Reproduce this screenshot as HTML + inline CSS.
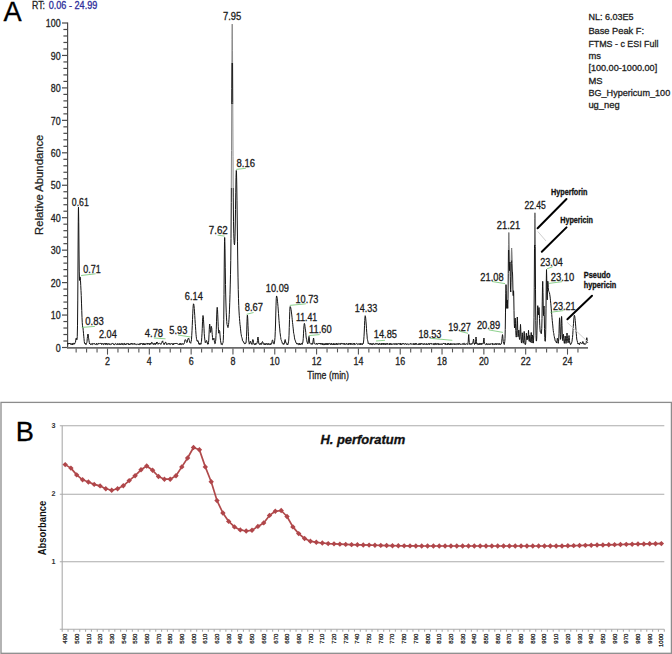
<!DOCTYPE html>
<html><head><meta charset="utf-8"><title>Chromatogram and absorbance spectrum</title>
<style>
html,body{margin:0;padding:0;background:#fff;}
body{width:672px;height:654px;overflow:hidden;}
svg{display:block;font-family:"Liberation Sans", sans-serif;}
</style></head>
<body>
<svg width="672" height="654" viewBox="0 0 672 654">
<rect width="672" height="654" fill="#fff"/>
<text x="3.60" y="21.10" font-size="27.2" fill="#000" stroke="#000" stroke-width="0.3">A</text>
<text x="32.00" y="8.50" font-size="10" textLength="13.00" lengthAdjust="spacingAndGlyphs" fill="#222" stroke="#222" stroke-width="0.3">RT:</text>
<text x="48.70" y="8.50" font-size="10" textLength="48.60" lengthAdjust="spacingAndGlyphs" fill="#2e2e9a" stroke="#2e2e9a" stroke-width="0.3">0.06 - 24.99</text>
<g stroke="#4a4a4a" stroke-width="1.2" fill="none">
<line x1="67.6" y1="22.40" x2="67.6" y2="348.30"/>
<line x1="62.0" y1="347.50" x2="67.6" y2="347.50"/>
<line x1="63.4" y1="341.01" x2="67.6" y2="341.01"/>
<line x1="63.4" y1="334.52" x2="67.6" y2="334.52"/>
<line x1="63.4" y1="328.03" x2="67.6" y2="328.03"/>
<line x1="63.4" y1="321.54" x2="67.6" y2="321.54"/>
<line x1="62.0" y1="315.05" x2="67.6" y2="315.05"/>
<line x1="63.4" y1="308.56" x2="67.6" y2="308.56"/>
<line x1="63.4" y1="302.07" x2="67.6" y2="302.07"/>
<line x1="63.4" y1="295.58" x2="67.6" y2="295.58"/>
<line x1="63.4" y1="289.09" x2="67.6" y2="289.09"/>
<line x1="62.0" y1="282.60" x2="67.6" y2="282.60"/>
<line x1="63.4" y1="276.11" x2="67.6" y2="276.11"/>
<line x1="63.4" y1="269.62" x2="67.6" y2="269.62"/>
<line x1="63.4" y1="263.13" x2="67.6" y2="263.13"/>
<line x1="63.4" y1="256.64" x2="67.6" y2="256.64"/>
<line x1="62.0" y1="250.15" x2="67.6" y2="250.15"/>
<line x1="63.4" y1="243.66" x2="67.6" y2="243.66"/>
<line x1="63.4" y1="237.17" x2="67.6" y2="237.17"/>
<line x1="63.4" y1="230.68" x2="67.6" y2="230.68"/>
<line x1="63.4" y1="224.19" x2="67.6" y2="224.19"/>
<line x1="62.0" y1="217.70" x2="67.6" y2="217.70"/>
<line x1="63.4" y1="211.21" x2="67.6" y2="211.21"/>
<line x1="63.4" y1="204.72" x2="67.6" y2="204.72"/>
<line x1="63.4" y1="198.23" x2="67.6" y2="198.23"/>
<line x1="63.4" y1="191.74" x2="67.6" y2="191.74"/>
<line x1="62.0" y1="185.25" x2="67.6" y2="185.25"/>
<line x1="63.4" y1="178.76" x2="67.6" y2="178.76"/>
<line x1="63.4" y1="172.27" x2="67.6" y2="172.27"/>
<line x1="63.4" y1="165.78" x2="67.6" y2="165.78"/>
<line x1="63.4" y1="159.29" x2="67.6" y2="159.29"/>
<line x1="62.0" y1="152.80" x2="67.6" y2="152.80"/>
<line x1="63.4" y1="146.31" x2="67.6" y2="146.31"/>
<line x1="63.4" y1="139.82" x2="67.6" y2="139.82"/>
<line x1="63.4" y1="133.33" x2="67.6" y2="133.33"/>
<line x1="63.4" y1="126.84" x2="67.6" y2="126.84"/>
<line x1="62.0" y1="120.35" x2="67.6" y2="120.35"/>
<line x1="63.4" y1="113.86" x2="67.6" y2="113.86"/>
<line x1="63.4" y1="107.37" x2="67.6" y2="107.37"/>
<line x1="63.4" y1="100.88" x2="67.6" y2="100.88"/>
<line x1="63.4" y1="94.39" x2="67.6" y2="94.39"/>
<line x1="62.0" y1="87.90" x2="67.6" y2="87.90"/>
<line x1="63.4" y1="81.41" x2="67.6" y2="81.41"/>
<line x1="63.4" y1="74.92" x2="67.6" y2="74.92"/>
<line x1="63.4" y1="68.43" x2="67.6" y2="68.43"/>
<line x1="63.4" y1="61.94" x2="67.6" y2="61.94"/>
<line x1="62.0" y1="55.45" x2="67.6" y2="55.45"/>
<line x1="63.4" y1="48.96" x2="67.6" y2="48.96"/>
<line x1="63.4" y1="42.47" x2="67.6" y2="42.47"/>
<line x1="63.4" y1="35.98" x2="67.6" y2="35.98"/>
<line x1="63.4" y1="29.49" x2="67.6" y2="29.49"/>
<line x1="62.0" y1="23.00" x2="67.6" y2="23.00"/>
</g>
<text x="60.70" y="351.70" font-size="10.6" textLength="4.95" lengthAdjust="spacingAndGlyphs" text-anchor="end" fill="#222" stroke="#222" stroke-width="0.3">0</text>
<text x="60.70" y="319.25" font-size="10.6" textLength="9.90" lengthAdjust="spacingAndGlyphs" text-anchor="end" fill="#222" stroke="#222" stroke-width="0.3">10</text>
<text x="60.70" y="286.80" font-size="10.6" textLength="9.90" lengthAdjust="spacingAndGlyphs" text-anchor="end" fill="#222" stroke="#222" stroke-width="0.3">20</text>
<text x="60.70" y="254.35" font-size="10.6" textLength="9.90" lengthAdjust="spacingAndGlyphs" text-anchor="end" fill="#222" stroke="#222" stroke-width="0.3">30</text>
<text x="60.70" y="221.90" font-size="10.6" textLength="9.90" lengthAdjust="spacingAndGlyphs" text-anchor="end" fill="#222" stroke="#222" stroke-width="0.3">40</text>
<text x="60.70" y="189.45" font-size="10.6" textLength="9.90" lengthAdjust="spacingAndGlyphs" text-anchor="end" fill="#222" stroke="#222" stroke-width="0.3">50</text>
<text x="60.70" y="157.00" font-size="10.6" textLength="9.90" lengthAdjust="spacingAndGlyphs" text-anchor="end" fill="#222" stroke="#222" stroke-width="0.3">60</text>
<text x="60.70" y="124.55" font-size="10.6" textLength="9.90" lengthAdjust="spacingAndGlyphs" text-anchor="end" fill="#222" stroke="#222" stroke-width="0.3">70</text>
<text x="60.70" y="92.10" font-size="10.6" textLength="9.90" lengthAdjust="spacingAndGlyphs" text-anchor="end" fill="#222" stroke="#222" stroke-width="0.3">80</text>
<text x="60.70" y="59.65" font-size="10.6" textLength="9.90" lengthAdjust="spacingAndGlyphs" text-anchor="end" fill="#222" stroke="#222" stroke-width="0.3">90</text>
<text x="60.70" y="27.20" font-size="10.6" textLength="14.85" lengthAdjust="spacingAndGlyphs" text-anchor="end" fill="#222" stroke="#222" stroke-width="0.3">100</text>
<text transform="translate(42.6,184.8) rotate(-90)" font-size="10.4" text-anchor="middle" fill="#222" stroke="#222" stroke-width="0.25" textLength="100.3" lengthAdjust="spacingAndGlyphs">Relative Abundance</text>
<g stroke="#6a6a6a" stroke-width="1.6" fill="none">
<line x1="67" y1="347.9" x2="588" y2="347.9"/>
</g>
<g stroke="#555" stroke-width="1.1" fill="none">
<line x1="76.14" y1="348.5" x2="76.14" y2="352.4"/>
<line x1="86.59" y1="348.5" x2="86.59" y2="352.4"/>
<line x1="97.05" y1="348.5" x2="97.05" y2="352.4"/>
<line x1="107.50" y1="348.5" x2="107.50" y2="354.6"/>
<line x1="117.95" y1="348.5" x2="117.95" y2="352.4"/>
<line x1="128.41" y1="348.5" x2="128.41" y2="352.4"/>
<line x1="138.86" y1="348.5" x2="138.86" y2="352.4"/>
<line x1="149.32" y1="348.5" x2="149.32" y2="354.6"/>
<line x1="159.77" y1="348.5" x2="159.77" y2="352.4"/>
<line x1="170.23" y1="348.5" x2="170.23" y2="352.4"/>
<line x1="180.68" y1="348.5" x2="180.68" y2="352.4"/>
<line x1="191.14" y1="348.5" x2="191.14" y2="354.6"/>
<line x1="201.59" y1="348.5" x2="201.59" y2="352.4"/>
<line x1="212.04" y1="348.5" x2="212.04" y2="352.4"/>
<line x1="222.50" y1="348.5" x2="222.50" y2="352.4"/>
<line x1="232.95" y1="348.5" x2="232.95" y2="354.6"/>
<line x1="243.41" y1="348.5" x2="243.41" y2="352.4"/>
<line x1="253.86" y1="348.5" x2="253.86" y2="352.4"/>
<line x1="264.32" y1="348.5" x2="264.32" y2="352.4"/>
<line x1="274.77" y1="348.5" x2="274.77" y2="354.6"/>
<line x1="285.23" y1="348.5" x2="285.23" y2="352.4"/>
<line x1="295.68" y1="348.5" x2="295.68" y2="352.4"/>
<line x1="306.14" y1="348.5" x2="306.14" y2="352.4"/>
<line x1="316.59" y1="348.5" x2="316.59" y2="354.6"/>
<line x1="327.04" y1="348.5" x2="327.04" y2="352.4"/>
<line x1="337.50" y1="348.5" x2="337.50" y2="352.4"/>
<line x1="347.95" y1="348.5" x2="347.95" y2="352.4"/>
<line x1="358.41" y1="348.5" x2="358.41" y2="354.6"/>
<line x1="368.86" y1="348.5" x2="368.86" y2="352.4"/>
<line x1="379.32" y1="348.5" x2="379.32" y2="352.4"/>
<line x1="389.77" y1="348.5" x2="389.77" y2="352.4"/>
<line x1="400.23" y1="348.5" x2="400.23" y2="354.6"/>
<line x1="410.68" y1="348.5" x2="410.68" y2="352.4"/>
<line x1="421.13" y1="348.5" x2="421.13" y2="352.4"/>
<line x1="431.59" y1="348.5" x2="431.59" y2="352.4"/>
<line x1="442.04" y1="348.5" x2="442.04" y2="354.6"/>
<line x1="452.50" y1="348.5" x2="452.50" y2="352.4"/>
<line x1="462.95" y1="348.5" x2="462.95" y2="352.4"/>
<line x1="473.41" y1="348.5" x2="473.41" y2="352.4"/>
<line x1="483.86" y1="348.5" x2="483.86" y2="354.6"/>
<line x1="494.32" y1="348.5" x2="494.32" y2="352.4"/>
<line x1="504.77" y1="348.5" x2="504.77" y2="352.4"/>
<line x1="515.23" y1="348.5" x2="515.23" y2="352.4"/>
<line x1="525.68" y1="348.5" x2="525.68" y2="354.6"/>
<line x1="536.13" y1="348.5" x2="536.13" y2="352.4"/>
<line x1="546.59" y1="348.5" x2="546.59" y2="352.4"/>
<line x1="557.04" y1="348.5" x2="557.04" y2="352.4"/>
<line x1="567.50" y1="348.5" x2="567.50" y2="354.6"/>
<line x1="577.95" y1="348.5" x2="577.95" y2="352.4"/>
</g>
<text x="107.50" y="364.90" font-size="10.5" textLength="4.95" lengthAdjust="spacingAndGlyphs" text-anchor="middle" fill="#222" stroke="#222" stroke-width="0.3">2</text>
<text x="149.32" y="364.90" font-size="10.5" textLength="4.95" lengthAdjust="spacingAndGlyphs" text-anchor="middle" fill="#222" stroke="#222" stroke-width="0.3">4</text>
<text x="191.14" y="364.90" font-size="10.5" textLength="4.95" lengthAdjust="spacingAndGlyphs" text-anchor="middle" fill="#222" stroke="#222" stroke-width="0.3">6</text>
<text x="232.95" y="364.90" font-size="10.5" textLength="4.95" lengthAdjust="spacingAndGlyphs" text-anchor="middle" fill="#222" stroke="#222" stroke-width="0.3">8</text>
<text x="274.77" y="364.90" font-size="10.5" textLength="9.90" lengthAdjust="spacingAndGlyphs" text-anchor="middle" fill="#222" stroke="#222" stroke-width="0.3">10</text>
<text x="316.59" y="364.90" font-size="10.5" textLength="9.90" lengthAdjust="spacingAndGlyphs" text-anchor="middle" fill="#222" stroke="#222" stroke-width="0.3">12</text>
<text x="358.41" y="364.90" font-size="10.5" textLength="9.90" lengthAdjust="spacingAndGlyphs" text-anchor="middle" fill="#222" stroke="#222" stroke-width="0.3">14</text>
<text x="400.23" y="364.90" font-size="10.5" textLength="9.90" lengthAdjust="spacingAndGlyphs" text-anchor="middle" fill="#222" stroke="#222" stroke-width="0.3">16</text>
<text x="442.04" y="364.90" font-size="10.5" textLength="9.90" lengthAdjust="spacingAndGlyphs" text-anchor="middle" fill="#222" stroke="#222" stroke-width="0.3">18</text>
<text x="483.86" y="364.90" font-size="10.5" textLength="9.90" lengthAdjust="spacingAndGlyphs" text-anchor="middle" fill="#222" stroke="#222" stroke-width="0.3">20</text>
<text x="525.68" y="364.90" font-size="10.5" textLength="9.90" lengthAdjust="spacingAndGlyphs" text-anchor="middle" fill="#222" stroke="#222" stroke-width="0.3">22</text>
<text x="567.50" y="364.90" font-size="10.5" textLength="9.90" lengthAdjust="spacingAndGlyphs" text-anchor="middle" fill="#222" stroke="#222" stroke-width="0.3">24</text>
<text x="307.30" y="379.20" font-size="10.4" textLength="41.60" lengthAdjust="spacingAndGlyphs" fill="#222" stroke="#222" stroke-width="0.3">Time (min)</text>
<text x="588.40" y="19.80" font-size="9.4" textLength="45.00" lengthAdjust="spacingAndGlyphs" fill="#222" stroke="#222" stroke-width="0.3">NL: 6.03E5</text>
<text x="588.40" y="34.20" font-size="9.4" textLength="55.60" lengthAdjust="spacingAndGlyphs" fill="#222" stroke="#222" stroke-width="0.3">Base Peak F:</text>
<text x="588.40" y="46.60" font-size="9.4" textLength="70.00" lengthAdjust="spacingAndGlyphs" fill="#222" stroke="#222" stroke-width="0.3">FTMS - c ESI Full</text>
<text x="588.40" y="58.60" font-size="9.4" fill="#222" stroke="#222" stroke-width="0.3">ms</text>
<text x="588.40" y="71.40" font-size="9.4" textLength="68.80" lengthAdjust="spacingAndGlyphs" fill="#222" stroke="#222" stroke-width="0.3">[100.00-1000.00]</text>
<text x="588.40" y="83.60" font-size="9.4" fill="#222" stroke="#222" stroke-width="0.3">MS</text>
<text x="588.40" y="96.20" font-size="9.4" textLength="81.80" lengthAdjust="spacingAndGlyphs" fill="#222" stroke="#222" stroke-width="0.3">BG_Hypericum_100</text>
<text x="588.40" y="107.60" font-size="9.4" fill="#222" stroke="#222" stroke-width="0.3">ug_neg</text>
<path d="M67.50,343.74 L67.75,343.48 L68.00,344.23 L68.25,343.36 L68.50,344.05 L68.75,343.80 L69.00,343.34 L69.25,344.01 L69.50,343.31 L69.75,343.90 L70.00,343.35 L70.25,343.39 L70.50,343.89 L70.75,344.49 L71.00,343.44 L71.25,343.58 L71.50,344.19 L71.75,344.67 L72.00,344.12 L72.25,343.85 L72.50,344.71 L72.75,343.32 L73.00,344.54 L73.25,343.68 L73.50,343.46 L73.75,343.41 L74.00,343.64 L74.25,344.23 L74.50,342.96 L74.75,343.24 L74.90,343.00 L75.00,343.17 L75.25,342.62 L75.50,342.23 L75.75,340.09 L76.00,338.55 L76.20,338.60 L76.25,338.14 L76.50,339.44 L76.75,339.96 L77.00,339.57 L77.25,336.70 L77.50,325.85 L77.75,300.95 L78.00,261.00 L78.25,221.66 L78.40,209.00 L78.50,207.14 L78.75,222.80 L79.00,250.00 L79.25,271.08 L79.50,280.46 L79.75,280.17 L80.00,277.05 L80.20,277.00 L80.25,277.65 L80.50,280.81 L80.75,285.66 L81.00,290.50 L81.25,295.59 L81.40,300.00 L81.50,303.14 L81.75,310.47 L82.00,317.47 L82.25,322.69 L82.50,325.78 L82.75,327.62 L83.00,327.95 L83.10,329.00 L83.25,330.72 L83.50,333.27 L83.75,336.16 L84.00,338.68 L84.25,341.41 L84.50,343.03 L84.75,343.18 L85.00,343.91 L85.25,343.21 L85.50,344.25 L85.75,344.20 L86.00,344.71 L86.25,344.37 L86.50,343.30 L86.75,342.76 L87.00,341.76 L87.25,338.56 L87.50,336.65 L87.75,334.35 L87.90,334.50 L88.00,334.02 L88.25,334.95 L88.50,337.82 L88.75,338.90 L89.00,340.86 L89.25,342.36 L89.50,343.86 L89.75,343.08 L90.00,343.82 L90.25,344.04 L90.50,344.57 L90.75,344.48 L91.00,344.55 L91.25,343.67 L91.50,343.87 L91.75,343.79 L92.00,344.58 L92.25,344.69 L92.50,343.48 L92.75,343.51 L93.00,343.60 L93.25,343.60 L93.50,343.98 L93.75,344.13 L94.00,343.64 L94.25,343.26 L94.50,343.88 L94.75,343.80 L95.00,344.10 L95.25,344.68 L95.50,344.29 L95.75,344.02 L96.00,344.18 L96.25,344.26 L96.50,343.33 L96.75,344.60 L97.00,344.42 L97.25,344.56 L97.50,344.45 L97.75,343.84 L98.00,343.85 L98.25,343.41 L98.50,344.20 L98.75,343.34 L99.00,343.35 L99.25,343.56 L99.50,343.49 L99.75,343.76 L100.00,343.33 L100.25,343.25 L100.50,343.48 L100.75,343.40 L101.00,343.80 L101.25,343.29 L101.50,344.56 L101.75,344.17 L102.00,343.47 L102.25,343.63 L102.50,343.77 L102.75,343.80 L103.00,343.43 L103.25,344.52 L103.50,344.74 L103.75,343.95 L104.00,343.98 L104.25,343.38 L104.50,343.40 L104.75,343.76 L105.00,343.65 L105.25,344.49 L105.50,343.49 L105.75,343.28 L106.00,344.68 L106.25,344.04 L106.50,343.47 L106.75,344.06 L107.00,343.29 L107.25,344.04 L107.50,344.72 L107.75,344.54 L108.00,344.29 L108.25,343.64 L108.50,343.80 L108.75,343.50 L109.00,344.41 L109.25,344.05 L109.50,344.42 L109.75,343.74 L110.00,343.58 L110.25,344.47 L110.50,344.73 L110.75,344.53 L111.00,344.46 L111.25,344.48 L111.50,344.36 L111.75,343.59 L112.00,344.03 L112.25,343.78 L112.50,343.29 L112.75,343.29 L113.00,343.67 L113.25,343.64 L113.50,344.29 L113.75,344.68 L114.00,343.92 L114.25,344.66 L114.50,344.73 L114.75,344.68 L115.00,343.80 L115.25,343.58 L115.50,343.59 L115.75,343.55 L116.00,343.56 L116.25,344.19 L116.50,344.60 L116.75,344.51 L117.00,343.97 L117.25,344.23 L117.50,344.45 L117.75,343.38 L118.00,344.24 L118.25,344.61 L118.50,344.42 L118.75,344.38 L119.00,343.97 L119.25,343.52 L119.50,344.43 L119.75,343.75 L120.00,344.45 L120.25,344.71 L120.50,343.84 L120.75,343.85 L121.00,344.67 L121.25,344.34 L121.50,343.51 L121.75,343.44 L122.00,343.48 L122.25,344.61 L122.50,344.46 L122.75,343.47 L123.00,344.49 L123.25,344.72 L123.50,344.24 L123.75,343.78 L124.00,344.07 L124.25,343.45 L124.50,343.27 L124.75,344.71 L125.00,344.22 L125.25,344.04 L125.50,344.65 L125.75,343.90 L126.00,344.56 L126.25,344.49 L126.50,343.57 L126.75,343.63 L127.00,343.69 L127.25,343.61 L127.50,344.13 L127.75,343.64 L128.00,343.88 L128.25,343.45 L128.50,344.62 L128.75,343.78 L129.00,343.94 L129.25,344.13 L129.50,344.61 L129.75,343.88 L130.00,344.63 L130.25,344.00 L130.50,344.05 L130.75,344.04 L131.00,343.28 L131.25,343.91 L131.50,343.52 L131.75,343.26 L132.00,344.45 L132.25,343.51 L132.50,343.96 L132.75,344.34 L133.00,344.08 L133.25,343.74 L133.50,344.03 L133.75,344.08 L134.00,344.43 L134.25,343.41 L134.50,344.09 L134.75,343.62 L135.00,343.67 L135.25,344.41 L135.50,344.01 L135.75,344.09 L136.00,344.39 L136.25,344.62 L136.50,343.91 L136.75,344.17 L137.00,344.01 L137.25,344.02 L137.50,344.29 L137.75,343.93 L138.00,344.05 L138.25,343.97 L138.50,344.66 L138.75,344.30 L139.00,344.56 L139.25,344.66 L139.50,343.64 L139.75,344.09 L140.00,344.66 L140.25,344.51 L140.50,343.46 L140.75,343.43 L141.00,343.91 L141.25,343.36 L141.50,343.61 L141.75,343.36 L142.00,344.25 L142.25,344.43 L142.50,344.60 L142.75,343.48 L143.00,344.32 L143.25,344.24 L143.50,343.46 L143.75,344.57 L144.00,344.70 L144.25,343.58 L144.50,344.68 L144.75,343.85 L145.00,343.98 L145.25,344.73 L145.50,344.50 L145.75,343.49 L146.00,343.90 L146.25,344.02 L146.50,343.76 L146.75,343.54 L147.00,343.73 L147.25,344.33 L147.50,343.28 L147.75,344.08 L148.00,343.91 L148.25,343.28 L148.50,343.75 L148.75,344.19 L149.00,344.02 L149.25,343.35 L149.50,344.73 L149.75,344.43 L150.00,344.71 L150.25,343.40 L150.50,343.63 L150.75,343.23 L151.00,344.19 L151.25,343.10 L151.50,342.41 L151.75,342.38 L152.00,342.30 L152.25,343.12 L152.50,343.45 L152.75,343.09 L153.00,343.24 L153.25,344.55 L153.50,344.09 L153.75,344.30 L154.00,343.38 L154.25,343.34 L154.50,344.28 L154.75,343.89 L155.00,343.36 L155.25,344.65 L155.50,344.18 L155.75,344.36 L156.00,343.10 L156.25,343.89 L156.50,342.14 L156.75,342.78 L157.00,342.00 L157.25,342.17 L157.50,342.55 L157.75,343.43 L158.00,344.37 L158.25,343.56 L158.50,343.42 L158.75,344.04 L159.00,343.61 L159.25,343.41 L159.50,343.49 L159.75,343.33 L160.00,343.55 L160.25,343.72 L160.50,343.71 L160.75,344.38 L161.00,343.65 L161.25,343.88 L161.50,343.15 L161.75,342.89 L162.00,341.64 L162.25,341.24 L162.50,341.30 L162.75,340.89 L163.00,342.71 L163.25,343.20 L163.50,343.17 L163.75,343.84 L164.00,344.60 L164.25,343.32 L164.50,344.21 L164.75,343.25 L165.00,342.78 L165.25,342.74 L165.50,342.00 L165.75,342.07 L166.00,342.80 L166.25,343.63 L166.50,344.45 L166.75,343.68 L167.00,344.48 L167.25,344.31 L167.50,344.20 L167.75,343.86 L168.00,343.77 L168.25,343.33 L168.50,343.44 L168.75,343.36 L169.00,344.36 L169.25,343.63 L169.50,343.49 L169.75,343.38 L170.00,344.51 L170.25,344.56 L170.50,344.26 L170.75,343.67 L171.00,343.61 L171.25,343.69 L171.50,343.94 L171.75,343.49 L172.00,343.92 L172.25,343.64 L172.50,344.69 L172.75,344.71 L173.00,344.07 L173.25,343.62 L173.50,344.70 L173.75,343.71 L174.00,343.78 L174.25,343.25 L174.50,343.82 L174.75,343.96 L175.00,344.00 L175.25,343.55 L175.50,344.01 L175.75,343.26 L176.00,343.65 L176.25,343.38 L176.50,343.85 L176.75,343.31 L177.00,343.28 L177.25,343.71 L177.50,343.60 L177.75,344.13 L178.00,344.04 L178.25,344.38 L178.50,344.24 L178.75,344.32 L179.00,344.57 L179.25,343.83 L179.50,343.74 L179.75,344.73 L180.00,343.47 L180.25,344.34 L180.50,344.21 L180.75,343.32 L181.00,344.50 L181.25,344.59 L181.50,344.19 L181.75,344.35 L182.00,344.47 L182.25,343.46 L182.50,344.03 L182.75,344.00 L183.00,344.47 L183.25,344.38 L183.50,344.31 L183.75,343.76 L184.00,343.90 L184.25,343.10 L184.50,342.46 L184.75,341.02 L185.00,340.01 L185.25,339.64 L185.50,340.00 L185.75,339.97 L186.00,340.08 L186.25,341.81 L186.50,342.00 L186.75,342.47 L187.00,342.47 L187.25,342.14 L187.50,341.06 L187.75,339.31 L188.00,339.48 L188.25,338.65 L188.50,338.00 L188.75,338.29 L189.00,339.12 L189.25,340.37 L189.50,340.59 L189.75,342.55 L190.00,342.51 L190.25,342.61 L190.50,342.94 L190.75,343.31 L191.00,341.75 L191.25,341.15 L191.50,339.27 L191.75,335.30 L192.00,330.77 L192.25,325.56 L192.50,319.70 L192.75,313.78 L193.00,308.58 L193.25,305.10 L193.50,303.80 L193.75,304.16 L194.00,305.81 L194.25,308.41 L194.50,311.92 L194.75,315.50 L195.00,319.65 L195.25,323.43 L195.50,326.81 L195.75,330.60 L196.00,334.23 L196.25,336.79 L196.50,338.79 L196.75,339.73 L197.00,341.04 L197.25,341.35 L197.50,341.25 L197.75,340.45 L198.00,341.00 L198.25,342.07 L198.50,341.84 L198.75,343.80 L199.00,344.26 L199.25,343.14 L199.50,343.90 L199.75,344.47 L200.00,344.70 L200.25,343.91 L200.50,343.60 L200.75,343.40 L201.00,344.19 L201.25,342.31 L201.50,341.25 L201.75,337.68 L202.00,333.76 L202.25,328.63 L202.50,321.75 L202.75,317.40 L203.00,315.50 L203.25,316.58 L203.50,319.75 L203.75,323.95 L204.00,328.22 L204.25,333.73 L204.50,336.87 L204.75,338.98 L205.00,340.80 L205.25,342.58 L205.50,342.85 L205.75,342.30 L206.00,341.24 L206.25,340.65 L206.50,340.50 L206.75,340.64 L207.00,342.39 L207.25,342.12 L207.50,343.90 L207.75,344.32 L208.00,343.22 L208.25,344.02 L208.50,342.48 L208.75,340.14 L209.00,334.85 L209.25,329.59 L209.50,325.21 L209.70,324.00 L209.75,324.78 L210.00,326.35 L210.25,329.80 L210.50,332.45 L210.75,331.83 L211.00,328.80 L211.25,326.33 L211.40,326.50 L211.50,327.23 L211.75,328.11 L212.00,332.06 L212.25,334.46 L212.50,337.54 L212.75,339.94 L213.00,340.11 L213.25,339.76 L213.50,339.42 L213.75,338.58 L213.80,338.00 L214.00,338.98 L214.25,340.25 L214.50,342.38 L214.75,343.61 L215.00,343.48 L215.25,343.48 L215.50,341.38 L215.75,340.05 L216.00,335.48 L216.25,329.77 L216.50,321.81 L216.75,314.06 L217.00,308.57 L217.20,307.30 L217.25,307.56 L217.50,309.58 L217.75,314.84 L218.00,321.11 L218.25,326.72 L218.50,331.34 L218.75,333.19 L219.00,331.60 L219.25,331.02 L219.50,330.50 L219.75,331.63 L220.00,334.88 L220.25,337.90 L220.50,340.27 L220.75,342.02 L221.00,342.99 L221.25,344.42 L221.50,343.94 L221.75,343.56 L222.00,344.59 L222.25,344.70 L222.50,343.84 L222.75,343.22 L223.00,342.71 L223.25,340.42 L223.50,334.41 L223.75,319.74 L224.00,294.55 L224.25,264.01 L224.50,241.47 L224.60,237.50 L224.75,237.51 L225.00,248.90 L225.25,267.20 L225.50,284.35 L225.60,290.00 L225.75,297.06 L226.00,306.01 L226.25,312.84 L226.50,317.91 L226.75,321.65 L227.00,324.78 L227.25,324.98 L227.50,326.50 L227.75,327.23 L228.00,327.63 L228.25,326.05 L228.50,324.70 L228.75,322.54 L229.00,319.15 L229.25,314.59 L229.50,309.10 L229.75,302.22 L230.00,294.33 L230.25,284.93 L230.50,274.29 L230.75,260.42 L231.00,238.54 L231.25,202.63 L231.50,150.30 L231.75,88.79 L232.00,39.52 L232.20,24.00 L232.25,24.55 L232.50,50.30 L232.75,102.32 L233.00,156.76 L233.25,197.11 L233.50,221.22 L233.75,233.81 L234.00,240.44 L234.25,243.85 L234.50,244.84 L234.75,242.53 L235.00,236.15 L235.25,225.01 L235.50,209.39 L235.75,192.21 L236.00,177.45 L236.25,170.48 L236.40,170.80 L236.50,172.93 L236.75,184.06 L237.00,200.80 L237.25,220.97 L237.50,241.79 L237.75,260.96 L238.00,277.12 L238.25,289.62 L238.50,298.70 L238.75,305.60 L239.00,311.05 L239.25,315.23 L239.50,318.62 L239.75,321.58 L240.00,324.57 L240.25,326.14 L240.50,328.80 L240.75,331.05 L241.00,333.60 L241.25,334.74 L241.50,336.52 L241.75,337.16 L242.00,337.89 L242.25,338.86 L242.50,340.74 L242.75,341.05 L243.00,341.05 L243.25,341.11 L243.50,342.24 L243.75,342.85 L244.00,342.76 L244.25,342.75 L244.50,343.55 L244.75,344.09 L245.00,343.16 L245.25,342.96 L245.50,343.43 L245.75,343.37 L246.00,342.99 L246.25,340.18 L246.50,336.77 L246.75,329.89 L247.00,321.72 L247.25,315.92 L247.40,315.00 L247.50,315.56 L247.75,318.84 L248.00,325.55 L248.25,331.27 L248.50,336.66 L248.75,341.03 L249.00,342.29 L249.25,344.15 L249.50,343.70 L249.75,342.97 L250.00,342.20 L250.25,341.41 L250.50,341.00 L250.75,341.78 L251.00,343.30 L251.25,342.95 L251.50,343.70 L251.75,343.51 L252.00,344.51 L252.25,342.69 L252.50,341.27 L252.75,339.64 L253.00,339.50 L253.25,340.14 L253.50,342.54 L253.75,343.80 L254.00,344.15 L254.25,344.71 L254.50,344.64 L254.75,343.74 L255.00,343.53 L255.25,344.65 L255.50,344.37 L255.75,343.30 L256.00,344.25 L256.25,343.82 L256.50,343.80 L256.75,343.69 L257.00,343.20 L257.25,342.05 L257.50,340.46 L257.75,338.02 L258.00,337.00 L258.25,338.93 L258.50,340.23 L258.75,343.49 L259.00,343.25 L259.25,343.73 L259.50,344.48 L259.75,344.48 L260.00,343.90 L260.25,343.32 L260.50,343.96 L260.75,343.81 L261.00,344.63 L261.25,343.52 L261.50,343.69 L261.75,344.16 L262.00,342.15 L262.25,341.81 L262.50,341.50 L262.75,342.41 L263.00,343.26 L263.25,342.88 L263.50,343.19 L263.75,343.32 L264.00,344.63 L264.25,343.64 L264.50,344.37 L264.75,344.60 L265.00,343.76 L265.25,343.66 L265.50,344.69 L265.75,344.18 L266.00,343.64 L266.25,344.32 L266.50,343.72 L266.75,343.66 L267.00,343.26 L267.25,344.38 L267.50,344.62 L267.75,344.20 L268.00,344.66 L268.25,343.29 L268.50,343.60 L268.75,343.96 L269.00,344.69 L269.25,344.68 L269.50,343.83 L269.75,343.63 L270.00,343.89 L270.25,343.99 L270.50,344.64 L270.75,343.52 L271.00,344.41 L271.25,344.18 L271.50,343.94 L271.75,343.11 L272.00,341.73 L272.25,340.21 L272.50,340.00 L272.75,340.20 L273.00,341.37 L273.25,343.12 L273.50,342.81 L273.75,343.31 L274.00,344.15 L274.25,343.08 L274.50,341.97 L274.75,340.15 L275.00,337.58 L275.25,331.77 L275.50,324.99 L275.75,315.06 L276.00,305.78 L276.25,298.49 L276.50,296.00 L276.75,296.15 L277.00,297.16 L277.25,298.96 L277.50,301.24 L277.75,303.77 L278.00,306.69 L278.25,310.04 L278.50,313.56 L278.75,317.04 L279.00,320.48 L279.25,323.79 L279.50,326.95 L279.75,328.94 L280.00,332.54 L280.25,333.95 L280.50,336.28 L280.75,337.62 L281.00,339.52 L281.25,339.83 L281.50,340.80 L281.75,341.51 L282.00,341.92 L282.25,343.45 L282.50,343.31 L282.75,343.17 L283.00,343.45 L283.25,344.46 L283.50,343.82 L283.75,343.45 L284.00,344.25 L284.25,343.69 L284.50,343.36 L284.75,340.66 L285.00,339.88 L285.20,339.50 L285.25,340.01 L285.50,340.91 L285.75,342.49 L286.00,342.38 L286.25,343.39 L286.50,343.36 L286.75,343.52 L287.00,344.71 L287.25,344.12 L287.50,344.63 L287.75,343.75 L288.00,344.35 L288.25,343.27 L288.50,341.83 L288.75,340.09 L289.00,335.74 L289.25,327.50 L289.50,319.62 L289.75,311.70 L290.00,306.91 L290.10,306.60 L290.25,306.62 L290.50,307.00 L290.75,307.93 L291.00,309.25 L291.25,311.04 L291.50,312.99 L291.75,314.95 L292.00,317.19 L292.25,319.76 L292.50,322.38 L292.75,324.27 L293.00,326.83 L293.25,328.91 L293.50,331.90 L293.75,333.46 L294.00,334.46 L294.25,336.06 L294.50,337.84 L294.75,339.23 L295.00,340.34 L295.25,340.34 L295.50,341.12 L295.75,342.46 L296.00,342.47 L296.25,342.63 L296.50,342.93 L296.75,344.11 L297.00,343.30 L297.25,343.80 L297.50,343.57 L297.75,343.73 L298.00,344.44 L298.25,344.67 L298.50,343.75 L298.75,343.51 L299.00,344.32 L299.25,343.54 L299.50,343.25 L299.75,344.60 L300.00,343.88 L300.25,344.48 L300.50,343.86 L300.75,344.57 L301.00,343.94 L301.25,343.49 L301.50,343.27 L301.75,344.07 L302.00,344.17 L302.25,344.47 L302.50,342.94 L302.75,342.98 L303.00,341.02 L303.25,338.42 L303.50,333.81 L303.75,329.27 L304.00,325.51 L304.25,323.65 L304.30,323.40 L304.50,323.47 L304.75,324.58 L305.00,326.64 L305.25,328.93 L305.50,330.09 L305.75,332.38 L306.00,335.90 L306.25,338.03 L306.50,339.05 L306.75,339.84 L307.00,342.26 L307.25,342.26 L307.50,343.60 L307.75,343.51 L308.00,343.80 L308.25,341.98 L308.50,340.85 L308.75,337.30 L309.00,336.40 L309.25,337.62 L309.50,341.05 L309.75,343.19 L310.00,343.19 L310.25,343.52 L310.50,343.84 L310.75,344.03 L311.00,343.83 L311.25,343.43 L311.50,343.62 L311.75,344.34 L312.00,344.60 L312.25,343.30 L312.50,343.99 L312.75,343.78 L313.00,341.14 L313.25,339.86 L313.50,338.00 L313.75,338.78 L314.00,341.99 L314.25,343.47 L314.50,344.09 L314.75,343.70 L315.00,343.88 L315.25,344.12 L315.50,343.89 L315.75,344.24 L316.00,343.92 L316.25,343.91 L316.50,343.29 L316.75,344.18 L317.00,343.98 L317.25,343.60 L317.50,344.40 L317.75,344.42 L318.00,343.94 L318.25,343.52 L318.50,343.96 L318.75,343.41 L319.00,343.44 L319.25,343.90 L319.50,343.39 L319.75,343.91 L320.00,344.02 L320.25,343.31 L320.50,344.20 L320.75,343.37 L321.00,344.35 L321.25,344.42 L321.50,344.02 L321.75,343.33 L322.00,344.01 L322.25,343.82 L322.50,344.68 L322.75,343.45 L323.00,344.54 L323.25,344.74 L323.50,344.35 L323.75,344.47 L324.00,343.54 L324.25,344.72 L324.50,343.99 L324.75,344.68 L325.00,344.62 L325.25,343.50 L325.50,344.43 L325.75,344.65 L326.00,343.35 L326.25,343.78 L326.50,344.38 L326.75,343.49 L327.00,344.59 L327.25,343.66 L327.50,344.47 L327.75,343.47 L328.00,344.00 L328.25,344.63 L328.50,343.56 L328.75,343.64 L329.00,344.01 L329.25,343.73 L329.50,343.31 L329.75,343.52 L330.00,343.49 L330.25,344.65 L330.50,344.27 L330.75,344.59 L331.00,343.50 L331.25,344.43 L331.50,343.42 L331.75,344.05 L332.00,344.20 L332.25,343.79 L332.50,344.56 L332.75,344.08 L333.00,344.12 L333.25,344.57 L333.50,343.41 L333.75,344.74 L334.00,344.19 L334.25,343.84 L334.50,344.45 L334.75,343.65 L335.00,344.74 L335.25,344.12 L335.50,343.79 L335.75,344.40 L336.00,343.91 L336.25,343.52 L336.50,344.37 L336.75,343.32 L337.00,344.48 L337.25,343.63 L337.50,344.21 L337.75,344.73 L338.00,344.13 L338.25,344.25 L338.50,343.72 L338.75,343.25 L339.00,343.30 L339.25,343.47 L339.50,344.17 L339.75,343.90 L340.00,344.02 L340.25,344.59 L340.50,343.45 L340.75,343.59 L341.00,344.23 L341.25,343.28 L341.50,343.25 L341.75,343.78 L342.00,343.41 L342.25,343.79 L342.50,343.59 L342.75,344.13 L343.00,344.13 L343.25,343.56 L343.50,344.19 L343.75,343.96 L344.00,343.45 L344.25,344.65 L344.50,343.62 L344.75,343.47 L345.00,343.39 L345.25,344.21 L345.50,344.56 L345.75,344.42 L346.00,343.85 L346.25,343.65 L346.50,343.27 L346.75,344.22 L347.00,344.09 L347.25,343.78 L347.50,344.22 L347.75,343.92 L348.00,344.66 L348.25,344.35 L348.50,343.62 L348.75,344.61 L349.00,343.32 L349.25,344.05 L349.50,343.86 L349.75,343.61 L350.00,343.34 L350.25,344.42 L350.50,343.27 L350.75,344.08 L351.00,344.66 L351.25,343.46 L351.50,343.55 L351.75,344.16 L352.00,344.01 L352.25,344.21 L352.50,344.47 L352.75,343.51 L353.00,343.71 L353.25,343.70 L353.50,343.32 L353.75,344.58 L354.00,344.42 L354.25,344.32 L354.50,343.26 L354.75,344.52 L355.00,344.37 L355.25,343.95 L355.50,344.36 L355.75,343.93 L356.00,343.59 L356.25,343.41 L356.50,343.60 L356.75,343.31 L357.00,343.75 L357.25,344.37 L357.50,344.29 L357.75,344.52 L358.00,344.32 L358.25,343.65 L358.50,344.08 L358.75,343.90 L359.00,344.43 L359.25,344.03 L359.50,343.65 L359.75,344.21 L360.00,344.70 L360.25,343.58 L360.50,344.57 L360.75,343.27 L361.00,343.64 L361.25,343.60 L361.50,344.37 L361.75,344.67 L362.00,344.37 L362.25,343.73 L362.50,344.53 L362.75,343.61 L363.00,343.23 L363.25,343.65 L363.50,342.03 L363.75,339.92 L364.00,336.38 L364.25,332.03 L364.50,325.65 L364.75,320.51 L365.00,316.78 L365.20,315.70 L365.25,315.89 L365.50,316.62 L365.75,318.86 L366.00,321.81 L366.25,325.06 L366.50,328.63 L366.75,332.77 L367.00,335.05 L367.25,338.84 L367.50,339.64 L367.75,340.87 L368.00,341.95 L368.25,343.80 L368.50,343.31 L368.75,343.22 L369.00,343.17 L369.25,343.26 L369.50,344.26 L369.75,344.19 L370.00,344.29 L370.25,344.35 L370.50,343.35 L370.75,344.14 L371.00,343.80 L371.25,344.48 L371.50,344.48 L371.75,344.59 L372.00,343.35 L372.25,344.55 L372.50,344.62 L372.75,344.67 L373.00,343.41 L373.25,343.56 L373.50,343.42 L373.75,343.30 L374.00,344.52 L374.25,344.47 L374.50,344.20 L374.75,344.49 L375.00,344.20 L375.25,343.68 L375.50,343.40 L375.75,343.40 L376.00,344.39 L376.25,343.56 L376.50,343.73 L376.75,343.89 L377.00,343.28 L377.25,343.64 L377.50,343.67 L377.75,344.32 L378.00,343.80 L378.25,343.73 L378.50,344.70 L378.75,344.01 L379.00,344.53 L379.25,344.18 L379.50,343.30 L379.75,343.87 L380.00,343.90 L380.25,344.41 L380.50,343.77 L380.75,344.31 L381.00,344.06 L381.25,343.57 L381.50,344.54 L381.75,343.39 L382.00,344.48 L382.25,343.51 L382.50,343.25 L382.75,343.55 L383.00,344.39 L383.25,344.72 L383.50,343.26 L383.75,343.99 L384.00,343.99 L384.25,344.45 L384.50,343.53 L384.75,343.99 L385.00,343.77 L385.25,344.50 L385.50,343.64 L385.75,344.67 L386.00,343.68 L386.25,343.57 L386.50,344.30 L386.75,344.00 L387.00,343.41 L387.25,344.20 L387.50,343.37 L387.75,344.43 L388.00,344.30 L388.25,344.43 L388.50,344.19 L388.75,343.78 L389.00,343.85 L389.25,343.84 L389.50,344.59 L389.75,343.38 L390.00,344.58 L390.25,343.29 L390.50,343.56 L390.75,343.64 L391.00,344.60 L391.25,344.00 L391.50,343.82 L391.75,344.58 L392.00,343.60 L392.25,343.94 L392.50,344.05 L392.75,344.38 L393.00,344.38 L393.25,344.22 L393.50,343.77 L393.75,343.74 L394.00,343.48 L394.25,344.51 L394.50,344.24 L394.75,344.36 L395.00,343.50 L395.25,343.91 L395.50,344.41 L395.75,344.12 L396.00,343.44 L396.25,343.94 L396.50,344.58 L396.75,343.61 L397.00,343.54 L397.25,343.70 L397.50,344.30 L397.75,344.52 L398.00,343.48 L398.25,343.48 L398.50,343.62 L398.75,343.74 L399.00,344.03 L399.25,343.49 L399.50,343.74 L399.75,343.53 L400.00,344.71 L400.25,344.34 L400.50,343.40 L400.75,344.69 L401.00,343.40 L401.25,343.83 L401.50,344.73 L401.75,344.44 L402.00,344.35 L402.25,343.90 L402.50,343.54 L402.75,344.21 L403.00,343.41 L403.25,343.56 L403.50,343.83 L403.75,343.30 L404.00,343.85 L404.25,344.44 L404.50,344.29 L404.75,344.00 L405.00,344.20 L405.25,343.94 L405.50,343.46 L405.75,344.16 L406.00,343.86 L406.25,344.36 L406.50,344.61 L406.75,343.90 L407.00,344.11 L407.25,344.37 L407.50,343.88 L407.75,343.59 L408.00,344.33 L408.25,344.57 L408.50,344.41 L408.75,344.30 L409.00,344.53 L409.25,344.27 L409.50,344.21 L409.75,343.93 L410.00,343.72 L410.25,344.19 L410.50,343.40 L410.75,343.88 L411.00,344.42 L411.25,344.32 L411.50,344.19 L411.75,343.63 L412.00,343.89 L412.25,343.93 L412.50,344.18 L412.75,343.86 L413.00,344.26 L413.25,344.65 L413.50,343.52 L413.75,344.23 L414.00,344.42 L414.25,343.83 L414.50,343.98 L414.75,344.71 L415.00,343.31 L415.25,344.07 L415.50,343.49 L415.75,344.42 L416.00,344.66 L416.25,344.03 L416.50,343.40 L416.75,344.11 L417.00,344.06 L417.25,344.33 L417.50,344.02 L417.75,344.21 L418.00,344.49 L418.25,344.03 L418.50,343.87 L418.75,344.67 L419.00,343.57 L419.25,344.28 L419.50,343.84 L419.75,344.39 L420.00,343.43 L420.25,344.73 L420.50,343.78 L420.75,343.33 L421.00,343.66 L421.25,343.85 L421.50,343.27 L421.75,343.88 L422.00,343.88 L422.25,344.30 L422.50,343.78 L422.75,343.65 L423.00,343.59 L423.25,344.36 L423.50,344.66 L423.75,344.04 L424.00,343.58 L424.25,344.45 L424.50,343.84 L424.75,343.57 L425.00,343.44 L425.25,344.41 L425.50,344.46 L425.75,344.20 L426.00,343.95 L426.25,344.09 L426.50,343.59 L426.75,344.70 L427.00,343.78 L427.25,344.21 L427.50,344.48 L427.75,344.47 L428.00,343.95 L428.25,343.69 L428.50,344.07 L428.75,343.44 L429.00,344.50 L429.25,343.78 L429.50,344.53 L429.75,343.65 L430.00,343.81 L430.25,343.63 L430.50,343.89 L430.75,343.53 L431.00,343.25 L431.25,344.33 L431.50,343.67 L431.75,343.62 L432.00,343.70 L432.25,343.97 L432.50,343.89 L432.75,344.21 L433.00,344.24 L433.25,343.79 L433.50,344.64 L433.75,344.53 L434.00,343.34 L434.25,344.49 L434.50,344.61 L434.75,344.43 L435.00,343.46 L435.25,344.50 L435.50,344.20 L435.75,343.27 L436.00,343.27 L436.25,344.68 L436.50,344.23 L436.75,343.63 L437.00,343.40 L437.25,343.46 L437.50,343.60 L437.75,344.41 L438.00,343.77 L438.25,343.48 L438.50,344.61 L438.75,344.44 L439.00,343.50 L439.25,344.59 L439.50,344.16 L439.75,344.42 L440.00,344.25 L440.25,344.59 L440.50,344.43 L440.75,344.51 L441.00,343.55 L441.25,344.29 L441.50,344.05 L441.75,344.36 L442.00,343.91 L442.25,344.57 L442.50,344.08 L442.75,343.65 L443.00,343.60 L443.25,343.46 L443.50,343.99 L443.75,343.34 L444.00,343.95 L444.25,343.47 L444.50,343.99 L444.75,344.00 L445.00,344.06 L445.25,344.54 L445.50,343.26 L445.75,344.51 L446.00,343.95 L446.25,344.09 L446.50,344.25 L446.75,344.51 L447.00,343.81 L447.25,343.88 L447.50,344.69 L447.75,343.36 L448.00,344.21 L448.25,344.20 L448.50,343.29 L448.75,344.16 L449.00,344.27 L449.25,344.65 L449.50,343.75 L449.75,344.72 L450.00,344.02 L450.25,343.98 L450.50,344.60 L450.75,343.30 L451.00,344.33 L451.25,344.19 L451.50,343.76 L451.75,344.54 L452.00,343.80 L452.25,343.96 L452.50,344.04 L452.75,344.41 L453.00,343.57 L453.25,343.90 L453.50,343.88 L453.75,344.08 L454.00,344.49 L454.25,343.69 L454.50,344.49 L454.75,343.86 L455.00,344.01 L455.25,343.66 L455.50,344.01 L455.75,344.71 L456.00,344.23 L456.25,344.44 L456.50,343.75 L456.75,343.73 L457.00,343.70 L457.25,344.13 L457.50,344.20 L457.75,344.43 L458.00,343.31 L458.25,344.33 L458.50,344.58 L458.75,344.07 L459.00,343.32 L459.25,343.70 L459.50,343.26 L459.75,343.53 L460.00,344.63 L460.25,344.16 L460.50,344.24 L460.75,344.43 L461.00,344.61 L461.25,344.17 L461.50,344.18 L461.75,344.19 L462.00,344.29 L462.25,344.14 L462.50,344.27 L462.75,343.57 L463.00,344.25 L463.25,343.94 L463.50,344.39 L463.75,343.40 L464.00,343.52 L464.25,343.31 L464.50,344.41 L464.75,344.62 L465.00,344.23 L465.25,343.80 L465.50,344.48 L465.75,344.43 L466.00,344.09 L466.25,343.64 L466.50,343.70 L466.75,343.88 L467.00,343.73 L467.25,343.90 L467.50,344.21 L467.75,344.59 L468.00,342.74 L468.25,341.18 L468.50,336.10 L468.70,335.00 L468.75,334.55 L469.00,339.01 L469.25,342.44 L469.50,344.37 L469.75,343.90 L470.00,343.27 L470.25,343.83 L470.50,344.14 L470.75,344.66 L471.00,344.72 L471.25,343.96 L471.50,343.87 L471.75,343.40 L472.00,344.22 L472.25,343.57 L472.50,343.46 L472.75,343.05 L473.00,342.01 L473.25,340.74 L473.50,339.00 L473.75,339.90 L474.00,343.45 L474.25,343.16 L474.50,344.53 L474.75,343.44 L475.00,343.25 L475.25,344.02 L475.50,341.87 L475.75,339.40 L476.00,337.00 L476.25,338.58 L476.50,341.58 L476.75,344.10 L477.00,344.29 L477.25,344.53 L477.50,344.34 L477.75,343.38 L478.00,344.19 L478.25,344.31 L478.50,343.94 L478.75,344.65 L479.00,343.63 L479.25,344.70 L479.50,344.33 L479.75,343.27 L480.00,343.27 L480.25,344.23 L480.50,344.48 L480.75,343.37 L481.00,343.72 L481.25,344.34 L481.50,343.50 L481.75,344.54 L482.00,343.98 L482.25,343.34 L482.50,343.80 L482.75,344.11 L483.00,343.84 L483.25,343.69 L483.50,341.00 L483.75,339.15 L483.90,338.00 L484.00,338.12 L484.25,341.18 L484.50,343.38 L484.75,343.77 L485.00,343.82 L485.25,344.43 L485.50,344.67 L485.75,344.43 L486.00,344.10 L486.25,343.69 L486.50,343.34 L486.75,344.71 L487.00,344.30 L487.25,344.49 L487.50,343.75 L487.75,344.16 L488.00,344.72 L488.25,344.50 L488.50,344.15 L488.75,343.71 L489.00,343.89 L489.25,344.58 L489.50,343.82 L489.75,344.28 L490.00,344.15 L490.25,344.59 L490.50,344.46 L490.75,343.67 L491.00,343.25 L491.25,343.64 L491.50,343.88 L491.75,344.13 L492.00,344.47 L492.25,344.58 L492.50,343.31 L492.75,344.50 L493.00,344.47 L493.25,344.55 L493.50,344.11 L493.75,343.66 L494.00,344.53 L494.25,344.46 L494.50,344.28 L494.75,344.62 L495.00,343.77 L495.25,343.38 L495.50,344.08 L495.75,344.45 L496.00,343.55 L496.25,344.38 L496.50,344.65 L496.75,343.60 L497.00,344.16 L497.25,344.27 L497.50,343.95 L497.75,343.56 L498.00,343.63 L498.25,344.38 L498.50,344.44 L498.75,343.94 L499.00,343.38 L499.25,344.46 L499.50,344.41 L499.75,343.60 L500.00,344.12 L500.25,344.60 L500.50,344.58 L500.75,344.03 L501.00,343.93 L501.25,343.94 L501.50,342.74 L501.75,341.19 L502.00,338.45 L502.25,336.25 L502.50,334.60 L502.75,335.74 L503.00,339.02 L503.25,341.49 L503.50,343.19 L503.75,343.21 L504.00,343.17 L504.25,344.52 L504.50,343.28 L504.75,341.73 L505.00,338.71 L505.25,329.37 L505.50,312.07 L505.75,293.79 L506.00,284.60 L506.25,290.37 L506.50,303.17 L506.75,308.41 L507.00,303.44 L507.20,300.00 L507.25,300.19 L507.50,304.87 L507.75,308.39 L508.00,298.87 L508.25,273.36 L508.50,244.32 L508.70,232.70 L508.75,232.51 L509.00,245.96 L509.25,265.42 L509.50,270.62 L509.75,263.91 L509.90,262.00 L510.00,263.71 L510.25,276.45 L510.50,289.37 L510.75,292.03 L511.00,282.36 L511.25,263.69 L511.50,249.21 L511.60,248.00 L511.75,251.52 L512.00,263.30 L512.25,271.05 L512.50,273.03 L512.60,275.00 L512.75,280.99 L513.00,293.63 L513.25,295.76 L513.50,290.74 L513.60,291.00 L513.75,295.69 L514.00,310.48 L514.25,323.39 L514.50,327.91 L514.75,325.78 L515.00,319.75 L515.20,318.00 L515.25,318.28 L515.50,323.82 L515.75,330.43 L516.00,335.72 L516.25,337.13 L516.50,335.33 L516.75,330.82 L517.00,323.08 L517.25,317.07 L517.30,317.00 L517.50,320.82 L517.75,330.58 L518.00,336.80 L518.25,335.97 L518.50,333.42 L518.75,330.36 L518.80,330.00 L519.00,332.14 L519.25,337.49 L519.50,339.44 L519.75,339.50 L520.00,336.11 L520.25,329.01 L520.50,324.40 L520.75,328.95 L521.00,336.13 L521.25,341.44 L521.50,343.06 L521.75,340.79 L522.00,336.80 L522.25,332.77 L522.30,333.00 L522.50,334.59 L522.75,340.22 L523.00,342.53 L523.25,343.22 L523.50,342.45 L523.75,340.05 L524.00,333.14 L524.20,331.40 L524.25,331.90 L524.50,335.88 L524.75,340.90 L525.00,344.22 L525.25,343.50 L525.50,344.49 L525.75,343.47 L526.00,340.05 L526.25,333.77 L526.40,333.00 L526.50,333.46 L526.75,337.08 L527.00,339.89 L527.25,337.30 L527.40,336.00 L527.50,336.61 L527.75,339.30 L528.00,339.27 L528.25,334.67 L528.50,330.30 L528.75,334.27 L529.00,340.55 L529.25,341.37 L529.50,338.68 L529.75,335.44 L529.80,336.00 L530.00,337.91 L530.25,341.41 L530.50,342.19 L530.75,340.77 L531.00,334.44 L531.20,332.50 L531.25,332.53 L531.50,336.50 L531.75,341.35 L532.00,342.96 L532.25,339.17 L532.50,334.99 L532.60,335.00 L532.75,336.03 L533.00,339.91 L533.25,343.14 L533.50,340.67 L533.75,335.34 L534.00,317.79 L534.25,287.83 L534.50,248.87 L534.75,218.50 L534.90,212.80 L535.00,215.92 L535.25,246.58 L535.50,289.19 L535.75,320.65 L536.00,335.56 L536.25,341.04 L536.50,341.02 L536.75,338.02 L537.00,330.13 L537.25,320.18 L537.50,310.13 L537.70,306.00 L537.75,305.67 L538.00,309.52 L538.25,314.50 L538.50,314.97 L538.75,310.06 L539.00,307.50 L539.25,311.08 L539.50,318.57 L539.75,325.21 L540.00,329.10 L540.25,332.02 L540.50,332.18 L540.75,332.04 L541.00,332.78 L541.25,333.72 L541.50,331.95 L541.75,328.69 L542.00,318.43 L542.25,301.91 L542.50,286.14 L542.70,281.30 L542.75,281.86 L543.00,292.62 L543.25,308.71 L543.50,315.60 L543.75,310.31 L544.00,306.00 L544.25,314.71 L544.50,328.76 L544.75,337.64 L545.00,341.12 L545.25,341.30 L545.50,338.84 L545.75,329.32 L546.00,308.88 L546.25,282.93 L546.50,269.60 L546.75,278.78 L547.00,295.66 L547.25,299.85 L547.50,289.57 L547.70,282.00 L547.75,281.15 L548.00,282.09 L548.25,287.52 L548.50,290.12 L548.70,291.00 L548.75,291.31 L549.00,291.66 L549.25,292.38 L549.50,293.02 L549.75,294.56 L550.00,296.05 L550.25,298.13 L550.50,300.82 L550.75,303.24 L551.00,305.95 L551.25,308.95 L551.50,311.99 L551.75,314.65 L552.00,317.75 L552.25,320.48 L552.50,323.14 L552.75,325.03 L553.00,328.21 L553.25,330.46 L553.50,332.43 L553.75,333.32 L554.00,335.43 L554.25,336.28 L554.50,338.01 L554.75,338.00 L555.00,340.10 L555.25,340.97 L555.50,340.93 L555.75,341.50 L556.00,341.98 L556.25,342.37 L556.50,341.83 L556.75,343.06 L557.00,340.74 L557.25,338.60 L557.50,338.00 L557.75,338.74 L558.00,341.27 L558.25,343.37 L558.50,341.68 L558.75,338.83 L559.00,333.43 L559.25,324.14 L559.50,318.21 L559.60,317.80 L559.75,319.26 L560.00,326.42 L560.25,334.49 L560.50,339.35 L560.75,337.76 L561.00,332.99 L561.25,323.67 L561.50,316.87 L561.60,316.40 L561.75,317.72 L562.00,325.40 L562.25,334.23 L562.50,339.57 L562.75,340.60 L563.00,338.44 L563.25,334.31 L563.40,334.00 L563.50,334.54 L563.75,338.48 L564.00,341.15 L564.25,343.38 L564.50,343.22 L564.75,339.99 L565.00,337.69 L565.20,336.00 L565.25,336.74 L565.50,338.28 L565.75,341.47 L566.00,343.44 L566.25,342.05 L566.50,338.80 L566.75,335.61 L567.00,333.00 L567.25,335.37 L567.50,338.71 L567.75,341.65 L568.00,342.90 L568.25,342.35 L568.50,340.82 L568.75,337.46 L569.00,335.50 L569.25,337.63 L569.50,340.58 L569.75,343.05 L570.00,342.95 L570.25,343.94 L570.50,344.63 L570.75,344.53 L571.00,343.38 L571.25,343.41 L571.50,343.31 L571.75,342.21 L572.00,341.38 L572.25,339.09 L572.50,337.42 L572.75,334.66 L573.00,330.47 L573.25,326.78 L573.50,323.60 L573.75,319.94 L574.00,317.24 L574.25,315.53 L574.40,315.20 L574.50,315.42 L574.75,316.40 L575.00,318.28 L575.25,320.53 L575.50,323.93 L575.75,326.85 L576.00,330.76 L576.25,333.20 L576.50,336.25 L576.75,339.02 L577.00,340.28 L577.25,341.02 L577.50,342.35 L577.75,342.86 L578.00,344.05 L578.25,343.32 L578.50,343.51 L578.75,344.11 L579.00,343.38 L579.25,344.11 L579.50,344.66 L579.75,343.93 L580.00,343.15 L580.25,342.54 L580.50,342.00 L580.75,342.64 L581.00,342.97 L581.25,343.35 L581.50,343.44 L581.75,343.69 L582.00,343.85 L582.25,343.57 L582.50,342.99 L582.75,341.62 L583.00,341.50 L583.25,342.30 L583.50,343.89 L583.75,344.06 L584.00,344.10 L584.25,344.23 L584.50,343.55 L584.75,344.32 L585.00,343.94 L585.25,344.07 L585.50,344.17 L585.75,343.94 L586.00,343.54 L586.25,342.44 L586.50,339.76 L586.75,337.81 L586.80,337.70 L587.00,338.78 L587.25,342.08 L587.50,342.85" fill="none" stroke="#141414" stroke-width="1.0" stroke-linejoin="round"/>
<rect x="230.2" y="22" width="4.2" height="41" fill="#fff" opacity="0.5"/>
<rect x="230.2" y="104" width="4.2" height="84" fill="#fff" opacity="0.5"/>
<rect x="507.9" y="231" width="1.6" height="19" fill="#fff" opacity="0.45"/>
<rect x="510.9" y="246.5" width="1.4" height="14" fill="#fff" opacity="0.45"/>
<rect x="534.0" y="211" width="1.8" height="34" fill="#fff" opacity="0.35"/>
<g stroke="#6cc46c" stroke-width="0.9" fill="none" opacity="0.85">
<line x1="81.1" y1="275.5" x2="95.6" y2="273.8"/>
<line x1="81.8" y1="327.4" x2="94.9" y2="326.4"/>
<line x1="153.8" y1="338.0" x2="165.5" y2="338.8"/>
<line x1="178.0" y1="335.0" x2="190.6" y2="337.0"/>
<line x1="217.6" y1="235.2" x2="224.6" y2="236.1"/>
<line x1="236.2" y1="169.4" x2="245.8" y2="168.3"/>
<line x1="246.6" y1="314.3" x2="253.6" y2="312.5"/>
<line x1="289.8" y1="305.4" x2="305.9" y2="303.8"/>
<line x1="308.6" y1="335.6" x2="319.6" y2="334.6"/>
<line x1="376.0" y1="341.0" x2="385.0" y2="340.3"/>
<line x1="430.4" y1="338.3" x2="452.3" y2="340.3"/>
<line x1="459.8" y1="331.3" x2="468.0" y2="333.3"/>
<line x1="488.8" y1="329.9" x2="502.9" y2="332.4"/>
<line x1="492.0" y1="281.5" x2="505.0" y2="283.6"/>
<line x1="549.0" y1="283.4" x2="562.0" y2="281.7"/>
<line x1="550.3" y1="312.3" x2="563.4" y2="310.6"/>
<line x1="547.0" y1="268.8" x2="552.6" y2="266.8"/>
</g>
<g stroke="#cfcfcf" stroke-width="1" fill="none">
<line x1="537.8" y1="231.5" x2="546" y2="241"/>
<line x1="567.3" y1="322.5" x2="588.5" y2="342.5"/>
</g>
<text x="71.80" y="205.80" font-size="10.6" textLength="17.00" lengthAdjust="spacingAndGlyphs" fill="#1a1a1a" stroke="#1a1a1a" stroke-width="0.3">0.61</text>
<text x="83.20" y="273.10" font-size="10.6" textLength="17.50" lengthAdjust="spacingAndGlyphs" fill="#1a1a1a" stroke="#1a1a1a" stroke-width="0.3">0.71</text>
<text x="85.30" y="324.70" font-size="10.6" textLength="18.50" lengthAdjust="spacingAndGlyphs" fill="#1a1a1a" stroke="#1a1a1a" stroke-width="0.3">0.83</text>
<text x="99.00" y="337.70" font-size="10.6" textLength="17.80" lengthAdjust="spacingAndGlyphs" fill="#1a1a1a" stroke="#1a1a1a" stroke-width="0.3">2.04</text>
<text x="144.80" y="336.70" font-size="10.6" textLength="18.30" lengthAdjust="spacingAndGlyphs" fill="#1a1a1a" stroke="#1a1a1a" stroke-width="0.3">4.78</text>
<text x="169.30" y="333.60" font-size="10.6" textLength="18.00" lengthAdjust="spacingAndGlyphs" fill="#1a1a1a" stroke="#1a1a1a" stroke-width="0.3">5.93</text>
<text x="184.80" y="300.00" font-size="10.6" textLength="18.00" lengthAdjust="spacingAndGlyphs" fill="#1a1a1a" stroke="#1a1a1a" stroke-width="0.3">6.14</text>
<text x="208.80" y="233.50" font-size="10.6" textLength="19.00" lengthAdjust="spacingAndGlyphs" fill="#1a1a1a" stroke="#1a1a1a" stroke-width="0.3">7.62</text>
<text x="223.00" y="19.60" font-size="10.6" textLength="18.30" lengthAdjust="spacingAndGlyphs" fill="#1a1a1a" stroke="#1a1a1a" stroke-width="0.3">7.95</text>
<text x="236.50" y="166.70" font-size="10.6" textLength="18.50" lengthAdjust="spacingAndGlyphs" fill="#1a1a1a" stroke="#1a1a1a" stroke-width="0.3">8.16</text>
<text x="244.80" y="310.80" font-size="10.6" textLength="18.20" lengthAdjust="spacingAndGlyphs" fill="#1a1a1a" stroke="#1a1a1a" stroke-width="0.3">8.67</text>
<text x="265.80" y="292.00" font-size="10.6" textLength="23.10" lengthAdjust="spacingAndGlyphs" fill="#1a1a1a" stroke="#1a1a1a" stroke-width="0.3">10.09</text>
<text x="295.50" y="302.80" font-size="10.6" textLength="22.90" lengthAdjust="spacingAndGlyphs" fill="#1a1a1a" stroke="#1a1a1a" stroke-width="0.3">10.73</text>
<text x="296.00" y="321.10" font-size="10.6" textLength="21.20" lengthAdjust="spacingAndGlyphs" fill="#1a1a1a" stroke="#1a1a1a" stroke-width="0.3">11.41</text>
<text x="309.00" y="333.30" font-size="10.6" textLength="22.70" lengthAdjust="spacingAndGlyphs" fill="#1a1a1a" stroke="#1a1a1a" stroke-width="0.3">11.60</text>
<text x="354.80" y="311.50" font-size="10.6" textLength="22.60" lengthAdjust="spacingAndGlyphs" fill="#1a1a1a" stroke="#1a1a1a" stroke-width="0.3">14.33</text>
<text x="373.80" y="338.30" font-size="10.6" textLength="23.20" lengthAdjust="spacingAndGlyphs" fill="#1a1a1a" stroke="#1a1a1a" stroke-width="0.3">14.85</text>
<text x="418.50" y="337.70" font-size="10.6" textLength="22.90" lengthAdjust="spacingAndGlyphs" fill="#1a1a1a" stroke="#1a1a1a" stroke-width="0.3">18.53</text>
<text x="448.20" y="330.60" font-size="10.6" textLength="22.60" lengthAdjust="spacingAndGlyphs" fill="#1a1a1a" stroke="#1a1a1a" stroke-width="0.3">19.27</text>
<text x="476.90" y="329.40" font-size="10.6" textLength="23.30" lengthAdjust="spacingAndGlyphs" fill="#1a1a1a" stroke="#1a1a1a" stroke-width="0.3">20.89</text>
<text x="480.30" y="280.80" font-size="10.6" textLength="23.30" lengthAdjust="spacingAndGlyphs" fill="#1a1a1a" stroke="#1a1a1a" stroke-width="0.3">21.08</text>
<text x="496.80" y="229.30" font-size="10.6" textLength="23.30" lengthAdjust="spacingAndGlyphs" fill="#1a1a1a" stroke="#1a1a1a" stroke-width="0.3">21.21</text>
<text x="524.40" y="209.00" font-size="10.6" textLength="21.40" lengthAdjust="spacingAndGlyphs" fill="#1a1a1a" stroke="#1a1a1a" stroke-width="0.3">22.45</text>
<text x="540.30" y="265.60" font-size="10.6" textLength="22.50" lengthAdjust="spacingAndGlyphs" fill="#1a1a1a" stroke="#1a1a1a" stroke-width="0.3">23.04</text>
<text x="550.70" y="280.60" font-size="10.6" textLength="23.60" lengthAdjust="spacingAndGlyphs" fill="#1a1a1a" stroke="#1a1a1a" stroke-width="0.3">23.10</text>
<text x="553.00" y="309.50" font-size="10.6" textLength="22.60" lengthAdjust="spacingAndGlyphs" fill="#1a1a1a" stroke="#1a1a1a" stroke-width="0.3">23.21</text>
<g stroke="#000" stroke-width="2" stroke-linecap="round" fill="none">
<line x1="537.6" y1="228.2" x2="566.5" y2="199.0"/>
<line x1="541.8" y1="251.8" x2="566.5" y2="227.4"/>
<line x1="567.4" y1="319.3" x2="592.0" y2="295.7"/>
</g>
<text x="551.00" y="194.80" font-size="8.2" textLength="36.50" lengthAdjust="spacingAndGlyphs" font-weight="bold" fill="#111" stroke="#111" stroke-width="0.3">Hyperforin</text>
<text x="560.20" y="222.70" font-size="8.2" textLength="32.80" lengthAdjust="spacingAndGlyphs" font-weight="bold" fill="#111" stroke="#111" stroke-width="0.3">Hypericin</text>
<text x="583.80" y="277.80" font-size="8.2" textLength="26.60" lengthAdjust="spacingAndGlyphs" font-weight="bold" fill="#111" stroke="#111" stroke-width="0.3">Pseudo</text>
<text x="583.80" y="287.80" font-size="8.2" textLength="32.50" lengthAdjust="spacingAndGlyphs" font-weight="bold" fill="#111" stroke="#111" stroke-width="0.3">hypericin</text>
<rect x="1.0" y="402.4" width="670.4" height="250.9" fill="none" stroke="#8c8c8c" stroke-width="1.3"/>
<text x="15.80" y="441.20" font-size="27.2" fill="#000" stroke="#000" stroke-width="0.3">B</text>
<g stroke="#ababab" stroke-width="1.1" fill="none">
<line x1="59.8" y1="561.80" x2="664.3" y2="561.80"/>
<line x1="59.8" y1="494.20" x2="664.3" y2="494.20"/>
<line x1="59.8" y1="425.80" x2="664.3" y2="425.80"/>
<line x1="62.2" y1="425.80" x2="62.2" y2="629.30"/>
<line x1="59.8" y1="629.30" x2="664.3" y2="629.30"/>
<line x1="62.20" y1="629.30" x2="62.20" y2="631.70"/>
<line x1="68.05" y1="629.30" x2="68.05" y2="631.70"/>
<line x1="73.89" y1="629.30" x2="73.89" y2="631.70"/>
<line x1="79.74" y1="629.30" x2="79.74" y2="631.70"/>
<line x1="85.58" y1="629.30" x2="85.58" y2="631.70"/>
<line x1="91.43" y1="629.30" x2="91.43" y2="631.70"/>
<line x1="97.27" y1="629.30" x2="97.27" y2="631.70"/>
<line x1="103.12" y1="629.30" x2="103.12" y2="631.70"/>
<line x1="108.97" y1="629.30" x2="108.97" y2="631.70"/>
<line x1="114.81" y1="629.30" x2="114.81" y2="631.70"/>
<line x1="120.66" y1="629.30" x2="120.66" y2="631.70"/>
<line x1="126.50" y1="629.30" x2="126.50" y2="631.70"/>
<line x1="132.35" y1="629.30" x2="132.35" y2="631.70"/>
<line x1="138.19" y1="629.30" x2="138.19" y2="631.70"/>
<line x1="144.04" y1="629.30" x2="144.04" y2="631.70"/>
<line x1="149.88" y1="629.30" x2="149.88" y2="631.70"/>
<line x1="155.73" y1="629.30" x2="155.73" y2="631.70"/>
<line x1="161.58" y1="629.30" x2="161.58" y2="631.70"/>
<line x1="167.42" y1="629.30" x2="167.42" y2="631.70"/>
<line x1="173.27" y1="629.30" x2="173.27" y2="631.70"/>
<line x1="179.11" y1="629.30" x2="179.11" y2="631.70"/>
<line x1="184.96" y1="629.30" x2="184.96" y2="631.70"/>
<line x1="190.80" y1="629.30" x2="190.80" y2="631.70"/>
<line x1="196.65" y1="629.30" x2="196.65" y2="631.70"/>
<line x1="202.50" y1="629.30" x2="202.50" y2="631.70"/>
<line x1="208.34" y1="629.30" x2="208.34" y2="631.70"/>
<line x1="214.19" y1="629.30" x2="214.19" y2="631.70"/>
<line x1="220.03" y1="629.30" x2="220.03" y2="631.70"/>
<line x1="225.88" y1="629.30" x2="225.88" y2="631.70"/>
<line x1="231.72" y1="629.30" x2="231.72" y2="631.70"/>
<line x1="237.57" y1="629.30" x2="237.57" y2="631.70"/>
<line x1="243.41" y1="629.30" x2="243.41" y2="631.70"/>
<line x1="249.26" y1="629.30" x2="249.26" y2="631.70"/>
<line x1="255.11" y1="629.30" x2="255.11" y2="631.70"/>
<line x1="260.95" y1="629.30" x2="260.95" y2="631.70"/>
<line x1="266.80" y1="629.30" x2="266.80" y2="631.70"/>
<line x1="272.64" y1="629.30" x2="272.64" y2="631.70"/>
<line x1="278.49" y1="629.30" x2="278.49" y2="631.70"/>
<line x1="284.33" y1="629.30" x2="284.33" y2="631.70"/>
<line x1="290.18" y1="629.30" x2="290.18" y2="631.70"/>
<line x1="296.03" y1="629.30" x2="296.03" y2="631.70"/>
<line x1="301.87" y1="629.30" x2="301.87" y2="631.70"/>
<line x1="307.72" y1="629.30" x2="307.72" y2="631.70"/>
<line x1="313.56" y1="629.30" x2="313.56" y2="631.70"/>
<line x1="319.41" y1="629.30" x2="319.41" y2="631.70"/>
<line x1="325.25" y1="629.30" x2="325.25" y2="631.70"/>
<line x1="331.10" y1="629.30" x2="331.10" y2="631.70"/>
<line x1="336.94" y1="629.30" x2="336.94" y2="631.70"/>
<line x1="342.79" y1="629.30" x2="342.79" y2="631.70"/>
<line x1="348.64" y1="629.30" x2="348.64" y2="631.70"/>
<line x1="354.48" y1="629.30" x2="354.48" y2="631.70"/>
<line x1="360.33" y1="629.30" x2="360.33" y2="631.70"/>
<line x1="366.17" y1="629.30" x2="366.17" y2="631.70"/>
<line x1="372.02" y1="629.30" x2="372.02" y2="631.70"/>
<line x1="377.86" y1="629.30" x2="377.86" y2="631.70"/>
<line x1="383.71" y1="629.30" x2="383.71" y2="631.70"/>
<line x1="389.56" y1="629.30" x2="389.56" y2="631.70"/>
<line x1="395.40" y1="629.30" x2="395.40" y2="631.70"/>
<line x1="401.25" y1="629.30" x2="401.25" y2="631.70"/>
<line x1="407.09" y1="629.30" x2="407.09" y2="631.70"/>
<line x1="412.94" y1="629.30" x2="412.94" y2="631.70"/>
<line x1="418.78" y1="629.30" x2="418.78" y2="631.70"/>
<line x1="424.63" y1="629.30" x2="424.63" y2="631.70"/>
<line x1="430.47" y1="629.30" x2="430.47" y2="631.70"/>
<line x1="436.32" y1="629.30" x2="436.32" y2="631.70"/>
<line x1="442.17" y1="629.30" x2="442.17" y2="631.70"/>
<line x1="448.01" y1="629.30" x2="448.01" y2="631.70"/>
<line x1="453.86" y1="629.30" x2="453.86" y2="631.70"/>
<line x1="459.70" y1="629.30" x2="459.70" y2="631.70"/>
<line x1="465.55" y1="629.30" x2="465.55" y2="631.70"/>
<line x1="471.39" y1="629.30" x2="471.39" y2="631.70"/>
<line x1="477.24" y1="629.30" x2="477.24" y2="631.70"/>
<line x1="483.09" y1="629.30" x2="483.09" y2="631.70"/>
<line x1="488.93" y1="629.30" x2="488.93" y2="631.70"/>
<line x1="494.78" y1="629.30" x2="494.78" y2="631.70"/>
<line x1="500.62" y1="629.30" x2="500.62" y2="631.70"/>
<line x1="506.47" y1="629.30" x2="506.47" y2="631.70"/>
<line x1="512.31" y1="629.30" x2="512.31" y2="631.70"/>
<line x1="518.16" y1="629.30" x2="518.16" y2="631.70"/>
<line x1="524.00" y1="629.30" x2="524.00" y2="631.70"/>
<line x1="529.85" y1="629.30" x2="529.85" y2="631.70"/>
<line x1="535.70" y1="629.30" x2="535.70" y2="631.70"/>
<line x1="541.54" y1="629.30" x2="541.54" y2="631.70"/>
<line x1="547.39" y1="629.30" x2="547.39" y2="631.70"/>
<line x1="553.23" y1="629.30" x2="553.23" y2="631.70"/>
<line x1="559.08" y1="629.30" x2="559.08" y2="631.70"/>
<line x1="564.92" y1="629.30" x2="564.92" y2="631.70"/>
<line x1="570.77" y1="629.30" x2="570.77" y2="631.70"/>
<line x1="576.62" y1="629.30" x2="576.62" y2="631.70"/>
<line x1="582.46" y1="629.30" x2="582.46" y2="631.70"/>
<line x1="588.31" y1="629.30" x2="588.31" y2="631.70"/>
<line x1="594.15" y1="629.30" x2="594.15" y2="631.70"/>
<line x1="600.00" y1="629.30" x2="600.00" y2="631.70"/>
<line x1="605.84" y1="629.30" x2="605.84" y2="631.70"/>
<line x1="611.69" y1="629.30" x2="611.69" y2="631.70"/>
<line x1="617.53" y1="629.30" x2="617.53" y2="631.70"/>
<line x1="623.38" y1="629.30" x2="623.38" y2="631.70"/>
<line x1="629.23" y1="629.30" x2="629.23" y2="631.70"/>
<line x1="635.07" y1="629.30" x2="635.07" y2="631.70"/>
<line x1="640.92" y1="629.30" x2="640.92" y2="631.70"/>
<line x1="646.76" y1="629.30" x2="646.76" y2="631.70"/>
<line x1="652.61" y1="629.30" x2="652.61" y2="631.70"/>
<line x1="658.45" y1="629.30" x2="658.45" y2="631.70"/>
<line x1="664.30" y1="629.30" x2="664.30" y2="631.70"/>
</g>
<text x="55.4" y="563.70" font-size="7.2" font-weight="bold" text-anchor="end" fill="#333">1</text>
<text x="55.4" y="496.10" font-size="7.2" font-weight="bold" text-anchor="end" fill="#333">2</text>
<text x="55.4" y="427.70" font-size="7.2" font-weight="bold" text-anchor="end" fill="#333">3</text>
<text transform="translate(67.12,633.8) rotate(-90)" font-size="5.9" text-anchor="end" fill="#1a1a1a" stroke="#1a1a1a" stroke-width="0.25">490</text>
<text transform="translate(78.81,633.8) rotate(-90)" font-size="5.9" text-anchor="end" fill="#1a1a1a" stroke="#1a1a1a" stroke-width="0.25">500</text>
<text transform="translate(90.51,633.8) rotate(-90)" font-size="5.9" text-anchor="end" fill="#1a1a1a" stroke="#1a1a1a" stroke-width="0.25">510</text>
<text transform="translate(102.20,633.8) rotate(-90)" font-size="5.9" text-anchor="end" fill="#1a1a1a" stroke="#1a1a1a" stroke-width="0.25">520</text>
<text transform="translate(113.89,633.8) rotate(-90)" font-size="5.9" text-anchor="end" fill="#1a1a1a" stroke="#1a1a1a" stroke-width="0.25">530</text>
<text transform="translate(125.58,633.8) rotate(-90)" font-size="5.9" text-anchor="end" fill="#1a1a1a" stroke="#1a1a1a" stroke-width="0.25">540</text>
<text transform="translate(137.27,633.8) rotate(-90)" font-size="5.9" text-anchor="end" fill="#1a1a1a" stroke="#1a1a1a" stroke-width="0.25">550</text>
<text transform="translate(148.96,633.8) rotate(-90)" font-size="5.9" text-anchor="end" fill="#1a1a1a" stroke="#1a1a1a" stroke-width="0.25">560</text>
<text transform="translate(160.65,633.8) rotate(-90)" font-size="5.9" text-anchor="end" fill="#1a1a1a" stroke="#1a1a1a" stroke-width="0.25">570</text>
<text transform="translate(172.34,633.8) rotate(-90)" font-size="5.9" text-anchor="end" fill="#1a1a1a" stroke="#1a1a1a" stroke-width="0.25">580</text>
<text transform="translate(184.04,633.8) rotate(-90)" font-size="5.9" text-anchor="end" fill="#1a1a1a" stroke="#1a1a1a" stroke-width="0.25">590</text>
<text transform="translate(195.73,633.8) rotate(-90)" font-size="5.9" text-anchor="end" fill="#1a1a1a" stroke="#1a1a1a" stroke-width="0.25">600</text>
<text transform="translate(207.42,633.8) rotate(-90)" font-size="5.9" text-anchor="end" fill="#1a1a1a" stroke="#1a1a1a" stroke-width="0.25">610</text>
<text transform="translate(219.11,633.8) rotate(-90)" font-size="5.9" text-anchor="end" fill="#1a1a1a" stroke="#1a1a1a" stroke-width="0.25">620</text>
<text transform="translate(230.80,633.8) rotate(-90)" font-size="5.9" text-anchor="end" fill="#1a1a1a" stroke="#1a1a1a" stroke-width="0.25">630</text>
<text transform="translate(242.49,633.8) rotate(-90)" font-size="5.9" text-anchor="end" fill="#1a1a1a" stroke="#1a1a1a" stroke-width="0.25">640</text>
<text transform="translate(254.18,633.8) rotate(-90)" font-size="5.9" text-anchor="end" fill="#1a1a1a" stroke="#1a1a1a" stroke-width="0.25">650</text>
<text transform="translate(265.87,633.8) rotate(-90)" font-size="5.9" text-anchor="end" fill="#1a1a1a" stroke="#1a1a1a" stroke-width="0.25">660</text>
<text transform="translate(277.57,633.8) rotate(-90)" font-size="5.9" text-anchor="end" fill="#1a1a1a" stroke="#1a1a1a" stroke-width="0.25">670</text>
<text transform="translate(289.26,633.8) rotate(-90)" font-size="5.9" text-anchor="end" fill="#1a1a1a" stroke="#1a1a1a" stroke-width="0.25">680</text>
<text transform="translate(300.95,633.8) rotate(-90)" font-size="5.9" text-anchor="end" fill="#1a1a1a" stroke="#1a1a1a" stroke-width="0.25">690</text>
<text transform="translate(312.64,633.8) rotate(-90)" font-size="5.9" text-anchor="end" fill="#1a1a1a" stroke="#1a1a1a" stroke-width="0.25">700</text>
<text transform="translate(324.33,633.8) rotate(-90)" font-size="5.9" text-anchor="end" fill="#1a1a1a" stroke="#1a1a1a" stroke-width="0.25">710</text>
<text transform="translate(336.02,633.8) rotate(-90)" font-size="5.9" text-anchor="end" fill="#1a1a1a" stroke="#1a1a1a" stroke-width="0.25">720</text>
<text transform="translate(347.71,633.8) rotate(-90)" font-size="5.9" text-anchor="end" fill="#1a1a1a" stroke="#1a1a1a" stroke-width="0.25">730</text>
<text transform="translate(359.40,633.8) rotate(-90)" font-size="5.9" text-anchor="end" fill="#1a1a1a" stroke="#1a1a1a" stroke-width="0.25">740</text>
<text transform="translate(371.10,633.8) rotate(-90)" font-size="5.9" text-anchor="end" fill="#1a1a1a" stroke="#1a1a1a" stroke-width="0.25">750</text>
<text transform="translate(382.79,633.8) rotate(-90)" font-size="5.9" text-anchor="end" fill="#1a1a1a" stroke="#1a1a1a" stroke-width="0.25">760</text>
<text transform="translate(394.48,633.8) rotate(-90)" font-size="5.9" text-anchor="end" fill="#1a1a1a" stroke="#1a1a1a" stroke-width="0.25">770</text>
<text transform="translate(406.17,633.8) rotate(-90)" font-size="5.9" text-anchor="end" fill="#1a1a1a" stroke="#1a1a1a" stroke-width="0.25">780</text>
<text transform="translate(417.86,633.8) rotate(-90)" font-size="5.9" text-anchor="end" fill="#1a1a1a" stroke="#1a1a1a" stroke-width="0.25">790</text>
<text transform="translate(429.55,633.8) rotate(-90)" font-size="5.9" text-anchor="end" fill="#1a1a1a" stroke="#1a1a1a" stroke-width="0.25">800</text>
<text transform="translate(441.24,633.8) rotate(-90)" font-size="5.9" text-anchor="end" fill="#1a1a1a" stroke="#1a1a1a" stroke-width="0.25">810</text>
<text transform="translate(452.93,633.8) rotate(-90)" font-size="5.9" text-anchor="end" fill="#1a1a1a" stroke="#1a1a1a" stroke-width="0.25">820</text>
<text transform="translate(464.63,633.8) rotate(-90)" font-size="5.9" text-anchor="end" fill="#1a1a1a" stroke="#1a1a1a" stroke-width="0.25">830</text>
<text transform="translate(476.32,633.8) rotate(-90)" font-size="5.9" text-anchor="end" fill="#1a1a1a" stroke="#1a1a1a" stroke-width="0.25">840</text>
<text transform="translate(488.01,633.8) rotate(-90)" font-size="5.9" text-anchor="end" fill="#1a1a1a" stroke="#1a1a1a" stroke-width="0.25">850</text>
<text transform="translate(499.70,633.8) rotate(-90)" font-size="5.9" text-anchor="end" fill="#1a1a1a" stroke="#1a1a1a" stroke-width="0.25">860</text>
<text transform="translate(511.39,633.8) rotate(-90)" font-size="5.9" text-anchor="end" fill="#1a1a1a" stroke="#1a1a1a" stroke-width="0.25">870</text>
<text transform="translate(523.08,633.8) rotate(-90)" font-size="5.9" text-anchor="end" fill="#1a1a1a" stroke="#1a1a1a" stroke-width="0.25">880</text>
<text transform="translate(534.77,633.8) rotate(-90)" font-size="5.9" text-anchor="end" fill="#1a1a1a" stroke="#1a1a1a" stroke-width="0.25">890</text>
<text transform="translate(546.46,633.8) rotate(-90)" font-size="5.9" text-anchor="end" fill="#1a1a1a" stroke="#1a1a1a" stroke-width="0.25">900</text>
<text transform="translate(558.16,633.8) rotate(-90)" font-size="5.9" text-anchor="end" fill="#1a1a1a" stroke="#1a1a1a" stroke-width="0.25">910</text>
<text transform="translate(569.85,633.8) rotate(-90)" font-size="5.9" text-anchor="end" fill="#1a1a1a" stroke="#1a1a1a" stroke-width="0.25">920</text>
<text transform="translate(581.54,633.8) rotate(-90)" font-size="5.9" text-anchor="end" fill="#1a1a1a" stroke="#1a1a1a" stroke-width="0.25">930</text>
<text transform="translate(593.23,633.8) rotate(-90)" font-size="5.9" text-anchor="end" fill="#1a1a1a" stroke="#1a1a1a" stroke-width="0.25">940</text>
<text transform="translate(604.92,633.8) rotate(-90)" font-size="5.9" text-anchor="end" fill="#1a1a1a" stroke="#1a1a1a" stroke-width="0.25">950</text>
<text transform="translate(616.61,633.8) rotate(-90)" font-size="5.9" text-anchor="end" fill="#1a1a1a" stroke="#1a1a1a" stroke-width="0.25">960</text>
<text transform="translate(628.30,633.8) rotate(-90)" font-size="5.9" text-anchor="end" fill="#1a1a1a" stroke="#1a1a1a" stroke-width="0.25">970</text>
<text transform="translate(639.99,633.8) rotate(-90)" font-size="5.9" text-anchor="end" fill="#1a1a1a" stroke="#1a1a1a" stroke-width="0.25">980</text>
<text transform="translate(651.69,633.8) rotate(-90)" font-size="5.9" text-anchor="end" fill="#1a1a1a" stroke="#1a1a1a" stroke-width="0.25">990</text>
<text transform="translate(663.38,633.8) rotate(-90)" font-size="5.9" text-anchor="end" fill="#1a1a1a" stroke="#1a1a1a" stroke-width="0.25">1000</text>
<text transform="translate(45.6,528) rotate(-90)" font-size="10.6" font-weight="bold" text-anchor="middle" fill="#111" textLength="54.5" lengthAdjust="spacingAndGlyphs">Absorbance</text>
<text x="320.40" y="444.00" font-size="12" textLength="84.80" lengthAdjust="spacingAndGlyphs" font-weight="bold" font-style="italic" fill="#111" stroke="#111" stroke-width="0.3">H. perforatum</text>
<path d="M65.20,464.60 L70.90,468.10 L76.70,474.90 L82.60,479.80 L88.40,482.00 L94.20,484.40 L100.10,485.90 L105.80,488.70 L111.70,490.30 L117.60,488.70 L123.30,485.80 L129.20,480.60 L135.10,475.70 L141.00,469.80 L146.70,466.00 L152.60,470.30 L158.50,476.50 L164.40,479.20 L170.20,479.20 L176.00,475.80 L181.80,466.90 L187.60,458.00 L193.50,447.50 L199.40,449.80 L205.30,466.90 L211.20,481.80 L217.00,500.60 L222.90,513.00 L228.70,521.40 L234.50,526.90 L240.30,529.90 L246.20,531.00 L252.00,530.30 L257.90,526.40 L263.70,522.90 L269.50,515.40 L275.30,511.30 L281.20,510.50 L287.00,516.50 L292.90,526.90 L298.70,533.60 L304.60,538.50 L310.40,541.20 L316.30,542.30 L322.33,543.02 L328.18,543.61 L334.02,543.87 L339.87,544.14 L345.71,544.41 L351.56,544.64 L357.40,544.79 L363.25,544.95 L369.10,545.10 L374.94,545.25 L380.79,545.41 L386.63,545.56 L392.48,545.71 L398.32,545.77 L404.17,545.83 L410.02,545.89 L415.86,545.96 L421.71,546.00 L427.55,546.00 L433.40,546.00 L439.24,546.00 L445.09,546.00 L450.93,546.00 L456.78,546.00 L462.63,546.00 L468.47,546.00 L474.32,546.00 L480.16,546.00 L486.01,546.00 L491.85,546.00 L497.70,546.00 L503.55,546.00 L509.39,546.00 L515.24,546.00 L521.08,546.00 L526.93,546.00 L532.77,546.00 L538.62,546.00 L544.46,546.00 L550.31,546.00 L556.16,546.00 L562.00,545.95 L567.85,545.80 L573.69,545.66 L579.54,545.51 L585.38,545.37 L591.23,545.22 L597.08,545.07 L602.92,544.93 L608.77,544.78 L614.61,544.63 L620.46,544.49 L626.30,544.34 L632.15,544.20 L637.99,544.05 L643.84,543.93 L649.69,543.82 L655.53,543.72 L661.38,543.61" fill="none" stroke="#b04a4b" stroke-width="1.7" stroke-linejoin="round"/>
<g fill="#b0464a">
<path d="M65.20,461.90 L67.90,464.60 L65.20,467.30 L62.50,464.60 Z"/>
<path d="M70.90,465.40 L73.60,468.10 L70.90,470.80 L68.20,468.10 Z"/>
<path d="M76.70,472.20 L79.40,474.90 L76.70,477.60 L74.00,474.90 Z"/>
<path d="M82.60,477.10 L85.30,479.80 L82.60,482.50 L79.90,479.80 Z"/>
<path d="M88.40,479.30 L91.10,482.00 L88.40,484.70 L85.70,482.00 Z"/>
<path d="M94.20,481.70 L96.90,484.40 L94.20,487.10 L91.50,484.40 Z"/>
<path d="M100.10,483.20 L102.80,485.90 L100.10,488.60 L97.40,485.90 Z"/>
<path d="M105.80,486.00 L108.50,488.70 L105.80,491.40 L103.10,488.70 Z"/>
<path d="M111.70,487.60 L114.40,490.30 L111.70,493.00 L109.00,490.30 Z"/>
<path d="M117.60,486.00 L120.30,488.70 L117.60,491.40 L114.90,488.70 Z"/>
<path d="M123.30,483.10 L126.00,485.80 L123.30,488.50 L120.60,485.80 Z"/>
<path d="M129.20,477.90 L131.90,480.60 L129.20,483.30 L126.50,480.60 Z"/>
<path d="M135.10,473.00 L137.80,475.70 L135.10,478.40 L132.40,475.70 Z"/>
<path d="M141.00,467.10 L143.70,469.80 L141.00,472.50 L138.30,469.80 Z"/>
<path d="M146.70,463.30 L149.40,466.00 L146.70,468.70 L144.00,466.00 Z"/>
<path d="M152.60,467.60 L155.30,470.30 L152.60,473.00 L149.90,470.30 Z"/>
<path d="M158.50,473.80 L161.20,476.50 L158.50,479.20 L155.80,476.50 Z"/>
<path d="M164.40,476.50 L167.10,479.20 L164.40,481.90 L161.70,479.20 Z"/>
<path d="M170.20,476.50 L172.90,479.20 L170.20,481.90 L167.50,479.20 Z"/>
<path d="M176.00,473.10 L178.70,475.80 L176.00,478.50 L173.30,475.80 Z"/>
<path d="M181.80,464.20 L184.50,466.90 L181.80,469.60 L179.10,466.90 Z"/>
<path d="M187.60,455.30 L190.30,458.00 L187.60,460.70 L184.90,458.00 Z"/>
<path d="M193.50,444.80 L196.20,447.50 L193.50,450.20 L190.80,447.50 Z"/>
<path d="M199.40,447.10 L202.10,449.80 L199.40,452.50 L196.70,449.80 Z"/>
<path d="M205.30,464.20 L208.00,466.90 L205.30,469.60 L202.60,466.90 Z"/>
<path d="M211.20,479.10 L213.90,481.80 L211.20,484.50 L208.50,481.80 Z"/>
<path d="M217.00,497.90 L219.70,500.60 L217.00,503.30 L214.30,500.60 Z"/>
<path d="M222.90,510.30 L225.60,513.00 L222.90,515.70 L220.20,513.00 Z"/>
<path d="M228.70,518.70 L231.40,521.40 L228.70,524.10 L226.00,521.40 Z"/>
<path d="M234.50,524.20 L237.20,526.90 L234.50,529.60 L231.80,526.90 Z"/>
<path d="M240.30,527.20 L243.00,529.90 L240.30,532.60 L237.60,529.90 Z"/>
<path d="M246.20,528.30 L248.90,531.00 L246.20,533.70 L243.50,531.00 Z"/>
<path d="M252.00,527.60 L254.70,530.30 L252.00,533.00 L249.30,530.30 Z"/>
<path d="M257.90,523.70 L260.60,526.40 L257.90,529.10 L255.20,526.40 Z"/>
<path d="M263.70,520.20 L266.40,522.90 L263.70,525.60 L261.00,522.90 Z"/>
<path d="M269.50,512.70 L272.20,515.40 L269.50,518.10 L266.80,515.40 Z"/>
<path d="M275.30,508.60 L278.00,511.30 L275.30,514.00 L272.60,511.30 Z"/>
<path d="M281.20,507.80 L283.90,510.50 L281.20,513.20 L278.50,510.50 Z"/>
<path d="M287.00,513.80 L289.70,516.50 L287.00,519.20 L284.30,516.50 Z"/>
<path d="M292.90,524.20 L295.60,526.90 L292.90,529.60 L290.20,526.90 Z"/>
<path d="M298.70,530.90 L301.40,533.60 L298.70,536.30 L296.00,533.60 Z"/>
<path d="M304.60,535.80 L307.30,538.50 L304.60,541.20 L301.90,538.50 Z"/>
<path d="M310.40,538.50 L313.10,541.20 L310.40,543.90 L307.70,541.20 Z"/>
<path d="M316.30,539.60 L319.00,542.30 L316.30,545.00 L313.60,542.30 Z"/>
<path d="M322.33,540.32 L325.03,543.02 L322.33,545.72 L319.63,543.02 Z"/>
<path d="M328.18,540.91 L330.88,543.61 L328.18,546.31 L325.48,543.61 Z"/>
<path d="M334.02,541.17 L336.72,543.87 L334.02,546.57 L331.32,543.87 Z"/>
<path d="M339.87,541.44 L342.57,544.14 L339.87,546.84 L337.17,544.14 Z"/>
<path d="M345.71,541.71 L348.41,544.41 L345.71,547.11 L343.01,544.41 Z"/>
<path d="M351.56,541.94 L354.26,544.64 L351.56,547.34 L348.86,544.64 Z"/>
<path d="M357.40,542.09 L360.10,544.79 L357.40,547.49 L354.70,544.79 Z"/>
<path d="M363.25,542.25 L365.95,544.95 L363.25,547.65 L360.55,544.95 Z"/>
<path d="M369.10,542.40 L371.80,545.10 L369.10,547.80 L366.40,545.10 Z"/>
<path d="M374.94,542.55 L377.64,545.25 L374.94,547.95 L372.24,545.25 Z"/>
<path d="M380.79,542.71 L383.49,545.41 L380.79,548.11 L378.09,545.41 Z"/>
<path d="M386.63,542.86 L389.33,545.56 L386.63,548.26 L383.93,545.56 Z"/>
<path d="M392.48,543.01 L395.18,545.71 L392.48,548.41 L389.78,545.71 Z"/>
<path d="M398.32,543.07 L401.02,545.77 L398.32,548.47 L395.62,545.77 Z"/>
<path d="M404.17,543.13 L406.87,545.83 L404.17,548.53 L401.47,545.83 Z"/>
<path d="M410.02,543.19 L412.72,545.89 L410.02,548.59 L407.32,545.89 Z"/>
<path d="M415.86,543.26 L418.56,545.96 L415.86,548.66 L413.16,545.96 Z"/>
<path d="M421.71,543.30 L424.41,546.00 L421.71,548.70 L419.01,546.00 Z"/>
<path d="M427.55,543.30 L430.25,546.00 L427.55,548.70 L424.85,546.00 Z"/>
<path d="M433.40,543.30 L436.10,546.00 L433.40,548.70 L430.70,546.00 Z"/>
<path d="M439.24,543.30 L441.94,546.00 L439.24,548.70 L436.54,546.00 Z"/>
<path d="M445.09,543.30 L447.79,546.00 L445.09,548.70 L442.39,546.00 Z"/>
<path d="M450.93,543.30 L453.63,546.00 L450.93,548.70 L448.23,546.00 Z"/>
<path d="M456.78,543.30 L459.48,546.00 L456.78,548.70 L454.08,546.00 Z"/>
<path d="M462.63,543.30 L465.33,546.00 L462.63,548.70 L459.93,546.00 Z"/>
<path d="M468.47,543.30 L471.17,546.00 L468.47,548.70 L465.77,546.00 Z"/>
<path d="M474.32,543.30 L477.02,546.00 L474.32,548.70 L471.62,546.00 Z"/>
<path d="M480.16,543.30 L482.86,546.00 L480.16,548.70 L477.46,546.00 Z"/>
<path d="M486.01,543.30 L488.71,546.00 L486.01,548.70 L483.31,546.00 Z"/>
<path d="M491.85,543.30 L494.55,546.00 L491.85,548.70 L489.15,546.00 Z"/>
<path d="M497.70,543.30 L500.40,546.00 L497.70,548.70 L495.00,546.00 Z"/>
<path d="M503.55,543.30 L506.25,546.00 L503.55,548.70 L500.85,546.00 Z"/>
<path d="M509.39,543.30 L512.09,546.00 L509.39,548.70 L506.69,546.00 Z"/>
<path d="M515.24,543.30 L517.94,546.00 L515.24,548.70 L512.54,546.00 Z"/>
<path d="M521.08,543.30 L523.78,546.00 L521.08,548.70 L518.38,546.00 Z"/>
<path d="M526.93,543.30 L529.63,546.00 L526.93,548.70 L524.23,546.00 Z"/>
<path d="M532.77,543.30 L535.47,546.00 L532.77,548.70 L530.07,546.00 Z"/>
<path d="M538.62,543.30 L541.32,546.00 L538.62,548.70 L535.92,546.00 Z"/>
<path d="M544.46,543.30 L547.16,546.00 L544.46,548.70 L541.76,546.00 Z"/>
<path d="M550.31,543.30 L553.01,546.00 L550.31,548.70 L547.61,546.00 Z"/>
<path d="M556.16,543.30 L558.86,546.00 L556.16,548.70 L553.46,546.00 Z"/>
<path d="M562.00,543.25 L564.70,545.95 L562.00,548.65 L559.30,545.95 Z"/>
<path d="M567.85,543.10 L570.55,545.80 L567.85,548.50 L565.15,545.80 Z"/>
<path d="M573.69,542.96 L576.39,545.66 L573.69,548.36 L570.99,545.66 Z"/>
<path d="M579.54,542.81 L582.24,545.51 L579.54,548.21 L576.84,545.51 Z"/>
<path d="M585.38,542.67 L588.08,545.37 L585.38,548.07 L582.68,545.37 Z"/>
<path d="M591.23,542.52 L593.93,545.22 L591.23,547.92 L588.53,545.22 Z"/>
<path d="M597.08,542.37 L599.78,545.07 L597.08,547.77 L594.38,545.07 Z"/>
<path d="M602.92,542.23 L605.62,544.93 L602.92,547.63 L600.22,544.93 Z"/>
<path d="M608.77,542.08 L611.47,544.78 L608.77,547.48 L606.07,544.78 Z"/>
<path d="M614.61,541.93 L617.31,544.63 L614.61,547.33 L611.91,544.63 Z"/>
<path d="M620.46,541.79 L623.16,544.49 L620.46,547.19 L617.76,544.49 Z"/>
<path d="M626.30,541.64 L629.00,544.34 L626.30,547.04 L623.60,544.34 Z"/>
<path d="M632.15,541.50 L634.85,544.20 L632.15,546.90 L629.45,544.20 Z"/>
<path d="M637.99,541.35 L640.69,544.05 L637.99,546.75 L635.29,544.05 Z"/>
<path d="M643.84,541.23 L646.54,543.93 L643.84,546.63 L641.14,543.93 Z"/>
<path d="M649.69,541.12 L652.39,543.82 L649.69,546.52 L646.99,543.82 Z"/>
<path d="M655.53,541.02 L658.23,543.72 L655.53,546.42 L652.83,543.72 Z"/>
<path d="M661.38,540.91 L664.08,543.61 L661.38,546.31 L658.68,543.61 Z"/>
</g>
</svg>
</body></html>
